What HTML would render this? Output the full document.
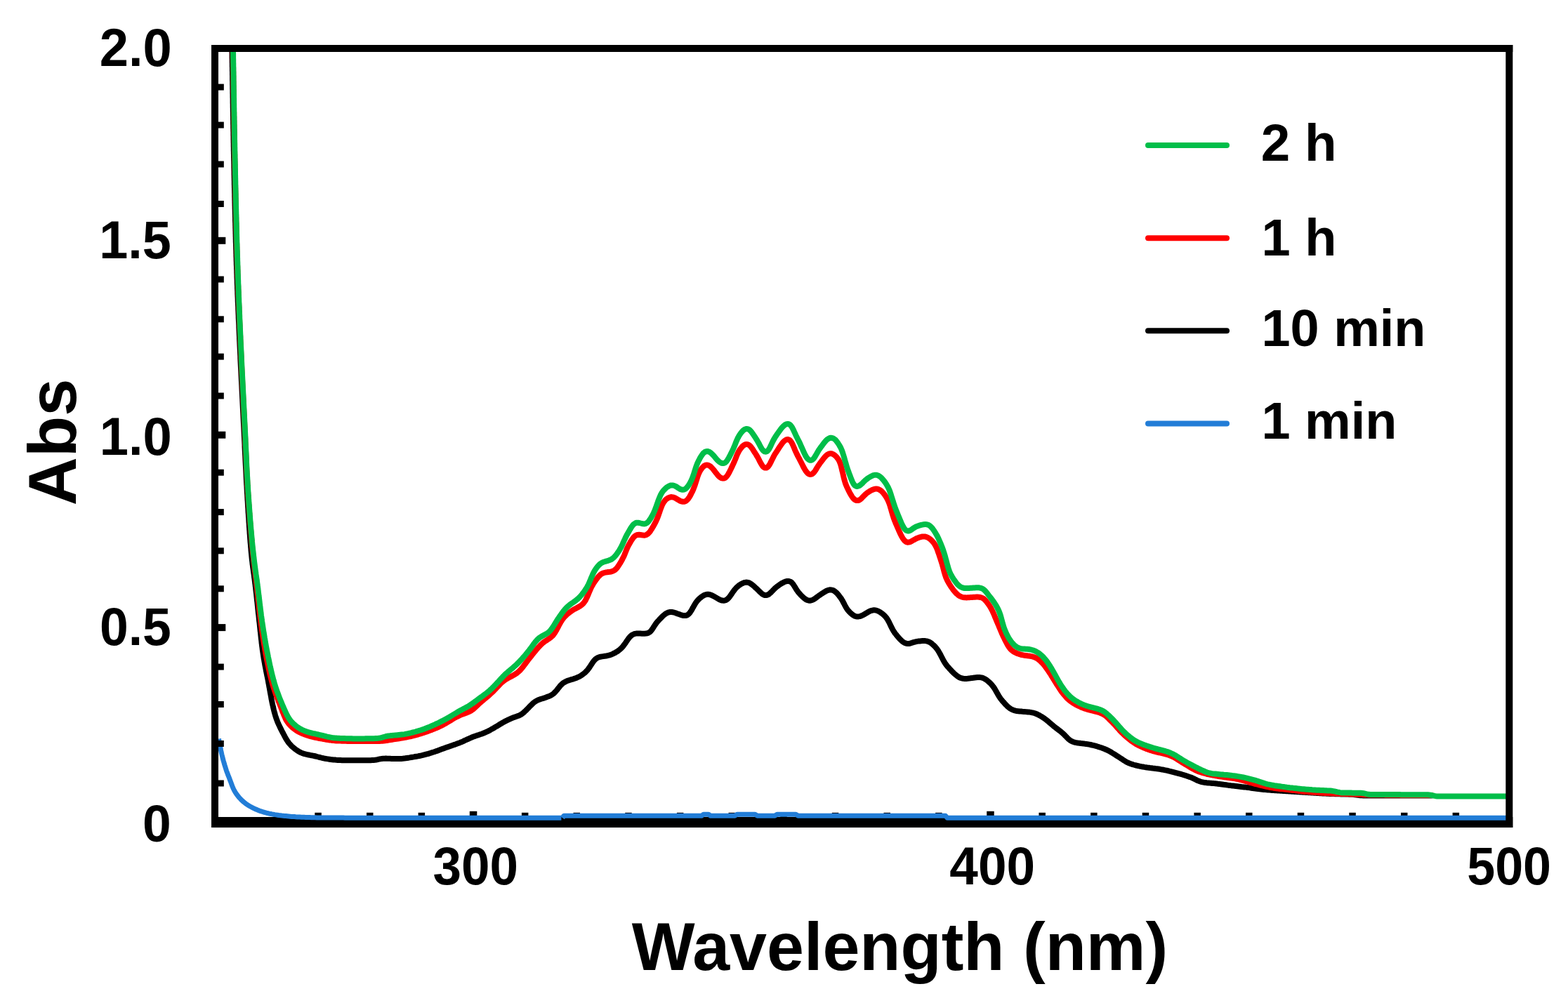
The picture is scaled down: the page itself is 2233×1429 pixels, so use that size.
<!DOCTYPE html>
<html><head><meta charset="utf-8"><title>Abs vs Wavelength</title>
<style>
html,body{margin:0;padding:0;background:#fff;}
svg{display:block;}
text{font-family:'Liberation Sans',Arial,Helvetica,sans-serif;font-weight:bold;fill:#000;}
</style></head>
<body>
<svg width="2233" height="1429" viewBox="0 0 2233 1429">
<rect x="0" y="0" width="2233" height="1429" fill="#fff"/>
<defs><clipPath id="plot"><rect x="306" y="69" width="1843" height="1100"/></clipPath>
<filter id="soft" x="0" y="0" width="1" height="1" filterUnits="objectBoundingBox"><feGaussianBlur stdDeviation="0.6"/></filter></defs>
<g filter="url(#soft)">
<rect x="0" y="0" width="2233" height="1429" fill="#fff"/>
<g clip-path="url(#plot)" fill="none" stroke-linejoin="round" stroke-linecap="round">
<path d="M330.3,61.6 L330.3,63.1 L330.4,64.8 L330.4,66.6 L330.4,68.5 L330.5,70.5 L330.5,72.5 L330.5,74.5 L330.6,76.5 L330.6,78.5 L330.6,80.5 L330.6,82.5 L330.7,84.5 L330.7,86.5 L330.7,88.5 L330.8,90.5 L330.8,92.5 L330.8,94.5 L330.9,96.5 L330.9,98.5 L330.9,100.5 L331.0,102.5 L331.0,104.5 L331.0,106.5 L331.1,108.5 L331.1,110.5 L331.1,112.5 L331.1,114.5 L331.2,116.5 L331.2,118.5 L331.2,120.5 L331.3,122.5 L331.3,124.5 L331.3,126.5 L331.4,128.5 L331.4,130.5 L331.4,132.5 L331.5,134.5 L331.5,136.5 L331.5,138.5 L331.6,140.5 L331.6,142.5 L331.6,144.5 L331.6,146.5 L331.7,148.5 L331.7,150.5 L331.7,152.5 L331.8,154.5 L331.8,156.5 L331.8,158.5 L331.9,160.5 L331.9,162.5 L331.9,164.5 L332.0,166.5 L332.0,168.5 L332.0,170.5 L332.1,172.5 L332.1,174.5 L332.1,176.5 L332.2,178.5 L332.2,180.5 L332.2,182.5 L332.3,184.5 L332.3,186.5 L332.4,188.5 L332.4,190.5 L332.4,192.5 L332.5,194.5 L332.5,196.5 L332.5,198.5 L332.6,200.5 L332.6,202.5 L332.7,204.5 L332.7,206.5 L332.7,208.5 L332.8,210.5 L332.8,212.5 L332.8,214.5 L332.9,216.5 L332.9,218.5 L333.0,220.5 L333.0,222.5 L333.0,224.5 L333.1,226.5 L333.1,228.5 L333.2,230.5 L333.2,232.5 L333.3,234.5 L333.3,236.5 L333.3,238.5 L333.4,240.5 L333.4,242.5 L333.5,244.5 L333.5,246.5 L333.5,248.5 L333.6,250.5 L333.6,252.5 L333.7,254.5 L333.7,256.5 L333.8,258.5 L333.8,260.5 L333.8,262.5 L333.9,264.5 L333.9,266.5 L334.0,268.5 L334.0,270.5 L334.1,272.5 L334.1,274.5 L334.2,276.5 L334.2,278.5 L334.2,280.5 L334.3,282.5 L334.3,284.5 L334.4,286.5 L334.4,288.5 L334.5,290.5 L334.5,292.5 L334.6,294.5 L334.6,296.5 L334.7,298.5 L334.7,300.5 L334.8,302.5 L334.8,304.5 L334.9,306.5 L334.9,308.5 L335.0,310.5 L335.0,312.5 L335.0,314.5 L335.1,316.5 L335.2,318.5 L335.2,320.5 L335.3,322.5 L335.3,324.5 L335.4,326.5 L335.4,328.4 L335.5,330.4 L335.5,332.4 L335.6,334.4 L335.6,336.4 L335.7,338.4 L335.7,340.4 L335.8,342.4 L335.8,344.4 L335.9,346.4 L336.0,348.4 L336.0,350.4 L336.1,352.4 L336.1,354.4 L336.2,356.4 L336.3,358.4 L336.3,360.4 L336.4,362.4 L336.4,364.4 L336.5,366.4 L336.6,368.4 L336.6,370.4 L336.7,372.4 L336.8,374.4 L336.8,376.4 L336.9,378.4 L337.0,380.4 L337.0,382.4 L337.1,384.4 L337.2,386.4 L337.2,388.4 L337.3,390.4 L337.4,392.4 L337.4,394.4 L337.5,396.4 L337.6,398.4 L337.7,400.4 L337.7,402.4 L337.8,404.4 L337.9,406.4 L338.0,408.4 L338.0,410.4 L338.1,412.4 L338.2,414.4 L338.3,416.4 L338.3,418.4 L338.4,420.4 L338.5,422.4 L338.6,424.4 L338.7,426.4 L338.7,428.4 L338.8,430.4 L338.9,432.4 L339.0,434.4 L339.1,436.4 L339.2,438.4 L339.2,440.4 L339.3,442.4 L339.4,444.4 L339.5,446.4 L339.6,448.4 L339.7,450.4 L339.7,452.4 L339.8,454.4 L339.9,456.4 L340.0,458.4 L340.1,460.4 L340.2,462.4 L340.3,464.4 L340.3,466.4 L340.4,468.4 L340.5,470.4 L340.6,472.4 L340.7,474.4 L340.8,476.4 L340.9,478.3 L341.0,480.3 L341.0,482.3 L341.1,484.3 L341.2,486.3 L341.3,488.3 L341.4,490.3 L341.5,492.3 L341.6,494.3 L341.7,496.3 L341.8,498.3 L341.9,500.3 L342.0,502.3 L342.1,504.3 L342.2,506.3 L342.3,508.3 L342.3,510.3 L342.4,512.3 L342.5,514.3 L342.6,516.3 L342.7,518.3 L342.8,520.3 L342.9,522.3 L343.0,524.3 L343.1,526.3 L343.2,528.3 L343.3,530.3 L343.4,532.3 L343.5,534.3 L343.6,536.3 L343.7,538.3 L343.8,540.3 L343.9,542.3 L344.0,544.3 L344.1,546.3 L344.2,548.3 L344.3,550.3 L344.4,552.3 L344.5,554.3 L344.6,556.3 L344.7,558.3 L344.8,560.3 L344.9,562.3 L345.0,564.2 L345.1,566.2 L345.2,568.2 L345.3,570.2 L345.4,572.2 L345.5,574.2 L345.6,576.2 L345.7,578.2 L345.8,580.2 L345.9,582.2 L346.0,584.2 L346.1,586.2 L346.2,588.2 L346.3,590.2 L346.4,592.2 L346.5,594.2 L346.6,596.2 L346.7,598.2 L346.8,600.2 L346.9,602.2 L347.0,604.2 L347.1,606.2 L347.2,608.2 L347.3,610.2 L347.4,612.2 L347.5,614.2 L347.6,616.2 L347.7,618.2 L347.8,620.2 L347.9,622.2 L348.0,624.2 L348.1,626.2 L348.2,628.2 L348.3,630.2 L348.4,632.2 L348.5,634.2 L348.5,636.2 L348.6,638.2 L348.7,640.2 L348.8,642.2 L348.9,644.2 L349.0,646.2 L349.1,648.1 L349.2,650.1 L349.3,652.1 L349.4,654.1 L349.5,656.1 L349.6,658.1 L349.7,660.1 L349.8,662.1 L349.9,664.1 L350.0,666.1 L350.1,668.1 L350.2,670.1 L350.3,672.1 L350.4,674.1 L350.5,676.1 L350.6,678.1 L350.7,680.1 L350.8,682.1 L350.9,684.1 L351.0,686.1 L351.1,688.1 L351.2,690.1 L351.4,692.1 L351.5,694.1 L351.6,696.1 L351.7,698.1 L351.8,700.1 L351.9,702.1 L352.1,704.1 L352.2,706.1 L352.3,708.1 L352.4,710.1 L352.5,712.1 L352.7,714.1 L352.8,716.0 L352.9,718.0 L353.0,720.0 L353.1,722.0 L353.3,724.0 L353.4,726.0 L353.5,728.0 L353.6,730.0 L353.8,732.0 L353.9,734.0 L354.0,736.0 L354.2,738.0 L354.3,740.0 L354.4,742.0 L354.5,744.0 L354.7,746.0 L354.8,748.0 L354.9,750.0 L355.1,752.0 L355.2,754.0 L355.4,756.0 L355.5,758.0 L355.6,760.0 L355.8,761.9 L355.9,763.9 L356.1,765.9 L356.2,767.9 L356.4,769.9 L356.5,771.9 L356.7,773.9 L356.9,775.9 L357.0,777.9 L357.2,779.9 L357.4,781.9 L357.5,783.9 L357.7,785.9 L357.9,787.9 L358.1,789.9 L358.3,791.8 L358.5,793.8 L358.7,795.8 L358.9,797.8 L359.2,799.8 L359.4,801.8 L359.6,803.8 L359.9,805.8 L360.1,807.7 L360.4,809.7 L360.7,811.7 L360.9,813.7 L361.2,815.7 L361.5,817.6 L361.8,819.6 L362.0,821.6 L362.3,823.6 L362.6,825.6 L362.8,827.6 L363.1,829.5 L363.3,831.5 L363.6,833.5 L363.8,835.5 L364.1,837.5 L364.3,839.5 L364.5,841.5 L364.7,843.4 L365.0,845.4 L365.2,847.4 L365.4,849.4 L365.6,851.4 L365.8,853.4 L366.0,855.4 L366.3,857.4 L366.5,859.3 L366.7,861.3 L366.9,863.3 L367.1,865.3 L367.3,867.3 L367.5,869.3 L367.7,871.3 L367.9,873.3 L368.2,875.3 L368.4,877.2 L368.6,879.2 L368.8,881.2 L369.0,883.2 L369.2,885.2 L369.5,887.2 L369.7,889.2 L369.9,891.2 L370.1,893.2 L370.3,895.1 L370.5,897.1 L370.7,899.1 L371.0,901.1 L371.2,903.1 L371.4,905.1 L371.6,907.1 L371.8,909.1 L372.0,911.0 L372.3,913.0 L372.5,915.0 L372.7,917.0 L373.0,919.0 L373.2,921.0 L373.5,923.0 L373.7,924.9 L374.0,926.9 L374.3,928.9 L374.6,930.9 L374.9,932.9 L375.2,934.8 L375.5,936.8 L375.8,938.8 L376.2,940.8 L376.5,942.7 L376.9,944.7 L377.2,946.7 L377.6,948.6 L378.0,950.6 L378.4,952.6 L378.7,954.5 L379.1,956.5 L379.5,958.4 L379.9,960.4 L380.3,962.4 L380.7,964.3 L381.1,966.3 L381.5,968.2 L381.9,970.2 L382.2,972.2 L382.6,974.1 L383.0,976.1 L383.3,978.1 L383.7,980.0 L384.0,982.0 L384.4,984.0 L384.7,985.9 L385.1,987.9 L385.5,989.9 L385.8,991.8 L386.2,993.8 L386.5,995.8 L386.9,997.7 L387.3,999.7 L387.7,1001.7 L388.1,1003.6 L388.6,1005.6 L389.0,1007.5 L389.5,1009.5 L389.9,1011.4 L390.4,1013.4 L390.9,1015.3 L391.5,1017.2 L392.0,1019.1 L392.6,1021.0 L393.2,1022.9 L393.9,1024.8 L394.6,1026.7 L395.3,1028.6 L396.1,1030.4 L396.9,1032.2 L397.8,1034.0 L398.6,1035.8 L399.5,1037.6 L400.4,1039.4 L401.3,1041.2 L402.2,1043.0 L403.2,1044.8 L404.1,1046.5 L405.0,1048.3 L406.0,1050.1 L406.9,1051.8 L407.9,1053.5 L409.0,1055.2 L410.1,1056.9 L411.3,1058.5 L412.6,1060.0 L413.9,1061.4 L415.3,1062.9 L416.8,1064.2 L418.3,1065.5 L419.9,1066.8 L421.4,1068.0 L423.1,1069.1 L424.7,1070.2 L426.5,1071.2 L428.2,1072.1 L430.1,1072.9 L431.9,1073.6 L433.8,1074.2 L435.8,1074.7 L437.7,1075.1 L439.7,1075.5 L441.6,1075.9 L443.6,1076.3 L445.6,1076.6 L447.5,1077.0 L449.5,1077.5 L451.4,1078.0 L453.3,1078.5 L455.3,1079.0 L457.2,1079.5 L459.1,1080.0 L461.1,1080.4 L463.0,1080.8 L465.0,1081.1 L467.0,1081.4 L469.0,1081.7 L471.0,1082.0 L472.9,1082.2 L474.9,1082.4 L476.9,1082.6 L478.9,1082.8 L480.9,1082.9 L482.9,1083.1 L484.9,1083.1 L486.9,1083.2 L488.9,1083.2 L490.9,1083.2 L492.9,1083.2 L494.9,1083.2 L496.9,1083.2 L498.9,1083.2 L500.9,1083.2 L502.9,1083.2 L504.9,1083.2 L506.9,1083.2 L508.9,1083.2 L510.9,1083.2 L512.9,1083.2 L514.4,1083.2 L515.9,1083.2 L517.9,1083.2 L519.9,1083.2 L521.9,1083.2 L523.9,1083.2 L525.9,1083.2 L527.9,1083.2 L529.9,1083.1 L531.9,1083.0 L533.8,1082.8 L535.8,1082.5 L537.7,1082.1 L539.7,1081.6 L541.6,1081.3 L543.6,1080.9 L545.6,1080.7 L547.6,1080.7 L549.5,1080.6 L551.5,1080.7 L553.5,1080.7 L555.5,1080.8 L557.5,1080.9 L559.5,1081.0 L561.5,1081.0 L563.5,1081.1 L565.5,1081.1 L567.5,1081.1 L569.5,1081.0 L571.5,1080.9 L573.5,1080.8 L575.5,1080.6 L577.5,1080.3 L579.5,1080.0 L581.4,1079.7 L583.4,1079.4 L585.4,1079.0 L587.3,1078.7 L589.3,1078.4 L591.3,1078.0 L593.3,1077.7 L595.2,1077.4 L597.2,1077.0 L599.2,1076.6 L601.1,1076.2 L603.1,1075.7 L605.0,1075.2 L606.9,1074.7 L608.9,1074.2 L610.8,1073.6 L612.7,1073.0 L614.6,1072.4 L616.5,1071.8 L618.4,1071.2 L620.3,1070.5 L622.2,1069.9 L624.0,1069.2 L625.9,1068.5 L627.8,1067.8 L629.7,1067.1 L631.5,1066.4 L633.4,1065.7 L635.3,1065.0 L637.2,1064.4 L639.1,1063.7 L641.0,1063.1 L642.9,1062.4 L644.8,1061.8 L646.7,1061.1 L648.5,1060.5 L650.4,1059.8 L652.3,1059.1 L654.2,1058.4 L656.0,1057.6 L657.9,1056.9 L659.7,1056.1 L661.5,1055.2 L663.3,1054.4 L665.1,1053.5 L667.0,1052.7 L668.8,1051.9 L670.6,1051.1 L672.5,1050.3 L674.3,1049.6 L676.2,1048.9 L678.1,1048.3 L680.0,1047.6 L681.9,1047.0 L683.8,1046.3 L685.7,1045.7 L687.5,1045.0 L689.4,1044.2 L691.2,1043.5 L693.0,1042.6 L694.8,1041.8 L696.6,1040.9 L698.4,1039.9 L700.1,1038.9 L701.9,1038.0 L703.6,1037.0 L705.3,1035.9 L707.0,1034.9 L708.8,1033.9 L710.5,1032.8 L712.2,1031.8 L713.9,1030.8 L715.6,1029.8 L717.4,1028.8 L719.1,1027.8 L720.9,1026.9 L722.7,1026.0 L724.5,1025.2 L726.3,1024.3 L728.1,1023.5 L730.0,1022.8 L731.8,1022.1 L733.7,1021.4 L735.6,1020.8 L737.5,1020.1 L739.3,1019.4 L741.1,1018.5 L742.8,1017.5 L744.3,1016.3 L745.9,1015.1 L747.3,1013.7 L748.8,1012.3 L750.2,1010.9 L751.6,1009.5 L753.0,1008.1 L754.4,1006.6 L755.8,1005.2 L757.2,1003.8 L758.6,1002.4 L760.1,1001.1 L761.7,999.9 L763.4,998.9 L765.1,997.9 L766.9,997.1 L768.8,996.4 L770.7,995.8 L772.6,995.2 L774.5,994.6 L776.4,994.0 L778.3,993.3 L780.1,992.6 L782.0,991.9 L783.8,991.1 L785.5,990.1 L787.2,989.0 L788.7,987.8 L790.1,986.4 L791.5,985.0 L792.8,983.5 L794.0,981.9 L795.2,980.3 L796.5,978.8 L797.7,977.2 L799.1,975.8 L800.5,974.4 L802.0,973.2 L803.7,972.1 L805.4,971.2 L807.2,970.3 L809.1,969.6 L811.0,969.0 L812.9,968.4 L814.8,967.8 L816.7,967.3 L818.6,966.6 L820.5,966.0 L822.3,965.2 L824.1,964.4 L825.9,963.5 L827.6,962.4 L829.2,961.3 L830.8,960.1 L832.4,958.9 L833.9,957.6 L835.3,956.1 L836.6,954.7 L837.8,953.1 L839.0,951.5 L840.1,949.8 L841.2,948.2 L842.3,946.5 L843.4,944.8 L844.5,943.2 L845.7,941.6 L847.0,940.1 L848.4,938.8 L850.0,937.7 L851.7,936.8 L853.5,936.2 L855.4,935.7 L857.3,935.4 L859.3,935.1 L861.3,934.8 L863.3,934.5 L865.2,934.1 L867.1,933.7 L869.0,933.1 L870.9,932.4 L872.7,931.6 L874.5,930.7 L876.3,929.8 L878.0,928.7 L879.7,927.7 L881.3,926.5 L882.8,925.3 L884.3,924.0 L885.7,922.6 L887.0,921.1 L888.2,919.5 L889.4,917.9 L890.6,916.3 L891.7,914.6 L892.8,913.0 L894.0,911.3 L895.1,909.7 L896.4,908.2 L897.7,906.7 L899.1,905.4 L900.7,904.3 L902.4,903.5 L904.2,902.9 L906.1,902.6 L908.0,902.5 L910.0,902.5 L912.0,902.6 L914.0,902.7 L916.0,902.7 L918.0,902.7 L919.9,902.6 L921.8,902.3 L923.5,901.7 L925.1,900.7 L926.5,899.5 L927.7,898.0 L928.9,896.4 L930.0,894.8 L931.0,893.1 L932.1,891.4 L933.2,889.8 L934.4,888.1 L935.6,886.6 L936.9,885.0 L938.2,883.6 L939.6,882.1 L941.0,880.7 L942.4,879.2 L943.8,877.8 L945.3,876.5 L946.8,875.3 L948.4,874.1 L950.1,873.2 L951.9,872.5 L953.7,872.1 L955.6,871.9 L957.5,872.1 L959.5,872.5 L961.4,873.0 L963.2,873.7 L965.1,874.4 L967.0,875.1 L968.8,875.8 L970.7,876.4 L972.6,876.9 L974.5,877.1 L976.3,877.1 L978.0,876.6 L979.6,875.8 L981.0,874.6 L982.3,873.2 L983.4,871.6 L984.5,869.9 L985.5,868.2 L986.4,866.4 L987.4,864.7 L988.4,862.9 L989.4,861.2 L990.4,859.5 L991.5,857.9 L992.7,856.3 L994.0,854.8 L995.4,853.4 L996.9,852.1 L998.5,850.8 L1000.1,849.6 L1001.7,848.6 L1003.5,847.7 L1005.3,847.1 L1007.1,846.8 L1009.0,846.8 L1010.9,847.1 L1012.7,847.7 L1014.5,848.4 L1016.3,849.4 L1018.0,850.4 L1019.7,851.4 L1021.4,852.4 L1023.1,853.4 L1024.9,854.3 L1026.7,855.1 L1028.5,855.6 L1030.4,855.7 L1032.1,855.5 L1033.8,854.9 L1035.4,854.0 L1036.8,852.7 L1038.2,851.3 L1039.4,849.8 L1040.5,848.1 L1041.7,846.5 L1042.8,844.8 L1043.9,843.2 L1045.1,841.6 L1046.3,840.0 L1047.6,838.5 L1048.9,837.0 L1050.4,835.7 L1051.9,834.4 L1053.5,833.3 L1055.2,832.2 L1056.9,831.3 L1058.7,830.5 L1060.5,829.9 L1062.4,829.6 L1064.2,829.7 L1066.0,830.1 L1067.8,830.8 L1069.4,831.8 L1071.0,833.0 L1072.5,834.2 L1074.1,835.5 L1075.5,836.9 L1077.0,838.2 L1078.5,839.6 L1079.9,841.0 L1081.3,842.4 L1082.7,843.8 L1084.2,845.1 L1085.7,846.3 L1087.3,847.3 L1088.9,847.9 L1090.7,848.1 L1092.4,847.8 L1094.1,847.1 L1095.6,846.1 L1097.1,844.8 L1098.5,843.4 L1099.9,842.0 L1101.3,840.5 L1102.7,839.1 L1104.1,837.7 L1105.6,836.4 L1107.2,835.2 L1108.8,834.1 L1110.4,832.9 L1112.1,831.8 L1113.8,830.8 L1115.6,829.9 L1117.3,829.0 L1119.2,828.4 L1121.0,828.0 L1122.8,827.9 L1124.5,828.3 L1126.1,829.0 L1127.6,830.1 L1128.8,831.5 L1130.0,833.1 L1131.1,834.8 L1132.1,836.5 L1133.2,838.2 L1134.2,839.9 L1135.3,841.5 L1136.5,843.2 L1137.7,844.7 L1139.0,846.2 L1140.3,847.7 L1141.8,849.1 L1143.2,850.5 L1144.7,851.8 L1146.2,853.0 L1147.8,854.1 L1149.5,855.0 L1151.3,855.5 L1153.1,855.7 L1154.9,855.5 L1156.7,855.0 L1158.4,854.2 L1160.1,853.1 L1161.7,852.0 L1163.3,850.8 L1164.9,849.6 L1166.5,848.4 L1168.2,847.3 L1169.8,846.2 L1171.5,845.1 L1173.2,844.0 L1174.9,843.0 L1176.6,842.0 L1178.4,841.2 L1180.2,840.6 L1182.1,840.3 L1183.9,840.4 L1185.7,840.8 L1187.4,841.5 L1189.0,842.6 L1190.5,843.8 L1191.9,845.2 L1193.2,846.7 L1194.5,848.2 L1195.7,849.8 L1196.9,851.4 L1198.1,853.0 L1199.1,854.7 L1200.1,856.4 L1201.0,858.2 L1202.0,860.0 L1202.9,861.8 L1203.8,863.5 L1204.8,865.3 L1205.8,867.0 L1206.9,868.6 L1208.2,870.1 L1209.5,871.6 L1210.9,873.0 L1212.4,874.4 L1213.9,875.6 L1215.5,876.7 L1217.2,877.6 L1219.0,878.2 L1220.9,878.5 L1222.7,878.4 L1224.6,878.1 L1226.4,877.5 L1228.2,876.7 L1230.0,875.7 L1231.7,874.7 L1233.4,873.7 L1235.1,872.7 L1236.8,871.7 L1238.6,870.8 L1240.4,870.1 L1242.3,869.6 L1244.2,869.3 L1246.1,869.3 L1247.9,869.7 L1249.8,870.3 L1251.6,871.1 L1253.3,872.1 L1254.9,873.2 L1256.5,874.4 L1258.0,875.6 L1259.5,877.0 L1260.8,878.4 L1262.1,879.9 L1263.3,881.6 L1264.3,883.2 L1265.3,885.0 L1266.2,886.7 L1267.1,888.5 L1267.9,890.3 L1268.8,892.1 L1269.7,893.9 L1270.6,895.7 L1271.6,897.5 L1272.6,899.2 L1273.7,900.8 L1274.8,902.5 L1276.1,904.0 L1277.3,905.6 L1278.6,907.1 L1279.9,908.6 L1281.2,910.1 L1282.6,911.5 L1284.1,912.9 L1285.6,914.2 L1287.2,915.3 L1288.9,916.1 L1290.7,916.7 L1292.5,917.0 L1294.4,917.0 L1296.2,916.6 L1298.1,916.0 L1300.0,915.4 L1301.9,914.8 L1303.8,914.3 L1305.7,913.9 L1307.7,913.6 L1309.7,913.4 L1311.7,913.2 L1313.6,913.1 L1315.6,913.1 L1317.6,913.1 L1319.5,913.4 L1321.4,913.9 L1323.2,914.6 L1324.9,915.5 L1326.5,916.6 L1328.0,917.9 L1329.5,919.2 L1330.9,920.6 L1332.3,922.1 L1333.6,923.6 L1334.8,925.2 L1335.9,926.8 L1336.9,928.5 L1337.9,930.2 L1338.9,932.0 L1339.8,933.7 L1340.7,935.5 L1341.6,937.3 L1342.6,939.1 L1343.5,940.8 L1344.5,942.6 L1345.5,944.3 L1346.6,945.9 L1347.8,947.5 L1349.0,949.1 L1350.3,950.6 L1351.7,952.1 L1353.0,953.6 L1354.4,955.1 L1355.7,956.5 L1357.2,957.9 L1358.6,959.3 L1360.1,960.7 L1361.6,961.9 L1363.2,963.1 L1364.8,964.2 L1366.5,965.2 L1368.3,965.9 L1370.2,966.5 L1372.1,966.8 L1374.1,967.0 L1376.1,966.9 L1378.0,966.8 L1380.0,966.6 L1382.0,966.3 L1384.0,966.1 L1386.0,965.8 L1387.9,965.5 L1389.9,965.3 L1391.9,965.1 L1393.9,965.0 L1395.8,965.1 L1397.8,965.4 L1399.6,965.9 L1401.4,966.7 L1403.1,967.6 L1404.8,968.7 L1406.4,969.9 L1407.9,971.2 L1409.3,972.5 L1410.8,973.9 L1412.1,975.4 L1413.4,976.9 L1414.6,978.4 L1415.8,980.1 L1416.8,981.8 L1417.8,983.5 L1418.8,985.2 L1419.8,987.0 L1420.8,988.7 L1421.8,990.5 L1422.8,992.2 L1423.9,993.8 L1425.0,995.5 L1426.3,997.0 L1427.5,998.6 L1428.8,1000.1 L1430.2,1001.6 L1431.5,1003.1 L1432.9,1004.5 L1434.3,1005.9 L1435.8,1007.2 L1437.3,1008.5 L1438.9,1009.6 L1440.6,1010.6 L1442.4,1011.4 L1444.3,1012.1 L1446.2,1012.6 L1448.1,1013.0 L1450.1,1013.2 L1452.1,1013.4 L1454.1,1013.6 L1456.1,1013.8 L1458.1,1013.9 L1460.1,1014.1 L1462.0,1014.2 L1464.0,1014.4 L1466.0,1014.6 L1468.0,1014.9 L1470.0,1015.3 L1471.9,1015.7 L1473.8,1016.3 L1475.6,1017.0 L1477.5,1017.8 L1479.2,1018.7 L1481.0,1019.6 L1482.7,1020.6 L1484.4,1021.7 L1486.1,1022.8 L1487.7,1023.9 L1489.3,1025.1 L1490.9,1026.3 L1492.5,1027.6 L1494.0,1028.9 L1495.5,1030.2 L1497.0,1031.5 L1498.5,1032.8 L1500.0,1034.1 L1501.6,1035.4 L1503.2,1036.6 L1504.7,1037.8 L1506.3,1039.0 L1507.9,1040.2 L1509.5,1041.4 L1511.1,1042.7 L1512.6,1044.0 L1514.1,1045.3 L1515.5,1046.7 L1516.9,1048.1 L1518.3,1049.5 L1519.7,1051.0 L1521.1,1052.4 L1522.6,1053.7 L1524.1,1054.9 L1525.8,1055.9 L1527.5,1056.7 L1529.4,1057.3 L1531.3,1057.8 L1533.3,1058.2 L1535.2,1058.5 L1537.2,1058.7 L1539.2,1059.0 L1541.2,1059.2 L1543.2,1059.4 L1545.2,1059.7 L1547.1,1059.9 L1549.1,1060.3 L1551.1,1060.6 L1553.0,1061.0 L1555.0,1061.5 L1556.9,1061.9 L1558.9,1062.4 L1560.8,1062.9 L1562.7,1063.5 L1564.6,1064.1 L1566.5,1064.7 L1568.4,1065.3 L1570.3,1066.0 L1572.2,1066.7 L1574.0,1067.5 L1575.9,1068.3 L1577.7,1069.1 L1579.4,1070.0 L1581.2,1071.0 L1582.9,1072.0 L1584.6,1073.1 L1586.3,1074.1 L1588.0,1075.2 L1589.7,1076.3 L1591.4,1077.4 L1593.0,1078.4 L1594.7,1079.5 L1596.4,1080.6 L1598.1,1081.7 L1599.7,1082.8 L1601.4,1083.9 L1603.1,1084.9 L1604.9,1085.9 L1606.6,1086.8 L1608.5,1087.6 L1610.3,1088.3 L1612.2,1088.9 L1614.1,1089.5 L1616.0,1090.0 L1618.0,1090.5 L1619.9,1091.0 L1621.9,1091.4 L1623.8,1091.8 L1625.8,1092.2 L1627.8,1092.5 L1629.8,1092.9 L1631.7,1093.2 L1633.7,1093.5 L1635.7,1093.7 L1637.7,1094.0 L1639.7,1094.2 L1641.6,1094.5 L1643.6,1094.7 L1645.6,1095.0 L1647.6,1095.2 L1649.6,1095.5 L1651.5,1095.8 L1653.5,1096.2 L1655.5,1096.5 L1657.4,1096.9 L1659.4,1097.3 L1661.4,1097.7 L1663.3,1098.2 L1665.2,1098.7 L1667.2,1099.1 L1669.1,1099.6 L1671.1,1100.1 L1673.0,1100.6 L1674.9,1101.1 L1676.9,1101.6 L1678.8,1102.2 L1680.7,1102.7 L1682.7,1103.2 L1684.6,1103.8 L1686.5,1104.4 L1688.4,1104.9 L1690.3,1105.6 L1692.2,1106.2 L1694.1,1106.9 L1696.0,1107.6 L1697.8,1108.3 L1699.6,1109.2 L1701.4,1110.0 L1703.2,1110.9 L1705.0,1111.8 L1706.8,1112.6 L1708.6,1113.3 L1710.5,1113.9 L1712.4,1114.3 L1714.4,1114.7 L1716.4,1114.9 L1718.4,1115.2 L1720.4,1115.4 L1722.3,1115.6 L1724.3,1115.7 L1726.3,1115.9 L1728.3,1116.1 L1730.3,1116.2 L1732.3,1116.4 L1734.3,1116.7 L1736.3,1116.9 L1738.3,1117.2 L1740.2,1117.5 L1742.2,1117.8 L1744.2,1118.1 L1746.2,1118.3 L1748.2,1118.6 L1750.1,1118.9 L1752.1,1119.1 L1754.1,1119.4 L1756.1,1119.6 L1758.1,1119.8 L1760.1,1120.1 L1762.1,1120.3 L1764.0,1120.5 L1766.0,1120.7 L1768.0,1121.0 L1770.0,1121.2 L1772.0,1121.4 L1774.0,1121.6 L1776.0,1121.9 L1777.9,1122.1 L1779.9,1122.4 L1781.9,1122.7 L1783.9,1123.0 L1785.9,1123.3 L1787.8,1123.5 L1789.8,1123.8 L1791.8,1124.1 L1793.8,1124.3 L1795.8,1124.5 L1797.8,1124.7 L1799.8,1124.9 L1801.8,1125.1 L1803.7,1125.3 L1805.7,1125.5 L1807.7,1125.6 L1809.7,1125.8 L1811.7,1125.9 L1813.7,1126.1 L1815.7,1126.2 L1817.7,1126.3 L1819.7,1126.5 L1821.7,1126.6 L1823.7,1126.7 L1825.7,1126.8 L1827.7,1127.0 L1829.7,1127.1 L1831.7,1127.2 L1833.7,1127.3 L1835.7,1127.4 L1837.7,1127.6 L1839.7,1127.7 L1841.7,1127.8 L1843.7,1127.9 L1845.7,1128.0 L1847.7,1128.2 L1849.6,1128.3 L1851.6,1128.4 L1853.6,1128.5 L1855.6,1128.7 L1857.6,1128.8 L1859.6,1128.9 L1861.6,1129.1 L1863.6,1129.2 L1865.6,1129.3 L1867.6,1129.4 L1869.6,1129.6 L1871.6,1129.7 L1873.6,1129.8 L1875.6,1129.9 L1877.6,1130.1 L1879.6,1130.2 L1881.6,1130.3 L1883.6,1130.4 L1885.6,1130.5 L1887.6,1130.6 L1889.6,1130.7 L1891.6,1130.8 L1893.6,1130.9 L1895.6,1131.0 L1897.6,1131.1 L1899.6,1131.1 L1901.6,1131.2 L1903.6,1131.3 L1905.6,1131.3 L1907.6,1131.3 L1909.6,1131.4 L1911.6,1131.4 L1913.6,1131.5 L1915.6,1131.5 L1917.6,1131.5 L1919.6,1131.6 L1921.6,1131.7 L1923.6,1131.7 L1925.5,1131.8 L1927.5,1132.0 L1929.5,1132.2 L1931.5,1132.5 L1933.4,1132.8 L1935.4,1133.0 L1937.4,1133.2 L1939.4,1133.3 L1941.4,1133.4 L1943.4,1133.4 L1945.4,1133.4 L1947.4,1133.4 L1949.4,1133.4 L1951.4,1133.4 L1953.4,1133.4 L1954.9,1133.4 L1956.4,1133.4 L1957.9,1133.4 L1959.4,1133.4 L1960.9,1133.4 L1962.4,1133.4 L1963.9,1133.4 L1965.4,1133.4 L1966.9,1133.4 L1968.4,1133.4 L1969.9,1133.4 L1971.4,1133.4 L1972.9,1133.4 L1974.4,1133.4 L1975.9,1133.4 L1977.4,1133.4 L1978.9,1133.4 L1980.4,1133.4 L1981.9,1133.4 L1983.4,1133.4 L1984.9,1133.4 L1986.4,1133.4 L1987.9,1133.4 L1989.4,1133.4 L1990.9,1133.4 L1992.4,1133.4 L1993.9,1133.4 L1995.4,1133.4 L1996.9,1133.4 L1998.4,1133.4 L1999.9,1133.4 L2001.4,1133.4 L2002.9,1133.4 L2004.4,1133.4 L2005.9,1133.4 L2007.4,1133.4 L2008.9,1133.4 L2010.4,1133.4 L2011.9,1133.4 L2013.4,1133.4 L2014.9,1133.4 L2016.4,1133.4 L2017.9,1133.4 L2019.4,1133.4 L2020.9,1133.4 L2022.4,1133.4 L2023.9,1133.4 L2025.9,1133.4 L2027.9,1133.4 L2029.9,1133.4 L2031.8,1133.4 L2033.8,1133.4 L2035.6,1133.4 L2037.1,1133.4 L2038.6,1133.4" stroke="#000" stroke-width="8"/>
<path d="M331.5,61.6 L331.5,63.1 L331.6,64.8 L331.6,66.6 L331.6,68.5 L331.7,70.5 L331.7,72.5 L331.7,74.5 L331.8,76.5 L331.8,78.5 L331.8,80.5 L331.8,82.5 L331.9,84.5 L331.9,86.5 L331.9,88.5 L332.0,90.5 L332.0,92.5 L332.0,94.5 L332.1,96.5 L332.1,98.5 L332.1,100.5 L332.2,102.5 L332.2,104.5 L332.2,106.5 L332.3,108.5 L332.3,110.5 L332.3,112.5 L332.3,114.5 L332.4,116.5 L332.4,118.5 L332.4,120.5 L332.5,122.5 L332.5,124.5 L332.5,126.5 L332.6,128.5 L332.6,130.5 L332.6,132.5 L332.7,134.5 L332.7,136.5 L332.7,138.5 L332.8,140.5 L332.8,142.5 L332.8,144.5 L332.8,146.5 L332.9,148.5 L332.9,150.5 L332.9,152.5 L333.0,154.5 L333.0,156.5 L333.0,158.5 L333.1,160.5 L333.1,162.5 L333.1,164.5 L333.2,166.5 L333.2,168.5 L333.2,170.5 L333.3,172.5 L333.3,174.5 L333.3,176.5 L333.4,178.5 L333.4,180.5 L333.4,182.5 L333.5,184.5 L333.5,186.5 L333.6,188.5 L333.6,190.5 L333.6,192.5 L333.7,194.5 L333.7,196.5 L333.7,198.5 L333.8,200.5 L333.8,202.5 L333.9,204.5 L333.9,206.5 L333.9,208.5 L334.0,210.5 L334.0,212.5 L334.0,214.5 L334.1,216.5 L334.1,218.5 L334.2,220.5 L334.2,222.5 L334.2,224.5 L334.3,226.5 L334.3,228.5 L334.4,230.5 L334.4,232.5 L334.5,234.5 L334.5,236.5 L334.5,238.5 L334.6,240.5 L334.6,242.5 L334.7,244.5 L334.7,246.5 L334.7,248.5 L334.8,250.5 L334.8,252.5 L334.9,254.5 L334.9,256.5 L335.0,258.5 L335.0,260.5 L335.0,262.5 L335.1,264.5 L335.1,266.5 L335.2,268.5 L335.2,270.5 L335.3,272.5 L335.3,274.5 L335.4,276.5 L335.4,278.5 L335.4,280.5 L335.5,282.5 L335.5,284.5 L335.6,286.5 L335.6,288.5 L335.7,290.5 L335.7,292.5 L335.8,294.5 L335.8,296.5 L335.9,298.5 L335.9,300.5 L336.0,302.5 L336.0,304.5 L336.1,306.5 L336.1,308.5 L336.2,310.5 L336.2,312.5 L336.2,314.5 L336.3,316.5 L336.4,318.5 L336.4,320.5 L336.5,322.5 L336.5,324.5 L336.6,326.5 L336.6,328.4 L336.7,330.4 L336.7,332.4 L336.8,334.4 L336.8,336.4 L336.9,338.4 L336.9,340.4 L337.0,342.4 L337.0,344.4 L337.1,346.4 L337.2,348.4 L337.2,350.4 L337.3,352.4 L337.3,354.4 L337.4,356.4 L337.5,358.4 L337.5,360.4 L337.6,362.4 L337.6,364.4 L337.7,366.4 L337.8,368.4 L337.8,370.4 L337.9,372.4 L338.0,374.4 L338.0,376.4 L338.1,378.4 L338.2,380.4 L338.2,382.4 L338.3,384.4 L338.4,386.4 L338.4,388.4 L338.5,390.4 L338.6,392.4 L338.6,394.4 L338.7,396.4 L338.8,398.4 L338.9,400.4 L338.9,402.4 L339.0,404.4 L339.1,406.4 L339.2,408.4 L339.2,410.4 L339.3,412.4 L339.4,414.4 L339.5,416.4 L339.5,418.4 L339.6,420.4 L339.7,422.4 L339.8,424.4 L339.9,426.4 L339.9,428.4 L340.0,430.4 L340.1,432.4 L340.2,434.4 L340.3,436.4 L340.4,438.4 L340.4,440.4 L340.5,442.4 L340.6,444.4 L340.7,446.4 L340.8,448.4 L340.9,450.4 L340.9,452.4 L341.0,454.4 L341.1,456.4 L341.2,458.4 L341.3,460.4 L341.4,462.4 L341.5,464.4 L341.5,466.4 L341.6,468.4 L341.7,470.4 L341.8,472.4 L341.9,474.4 L342.0,476.4 L342.1,478.3 L342.2,480.3 L342.2,482.3 L342.3,484.3 L342.4,486.3 L342.5,488.3 L342.6,490.3 L342.7,492.3 L342.8,494.3 L342.9,496.3 L343.0,498.3 L343.1,500.3 L343.2,502.3 L343.3,504.3 L343.4,506.3 L343.5,508.3 L343.5,510.3 L343.6,512.3 L343.7,514.3 L343.8,516.3 L343.9,518.3 L344.0,520.3 L344.1,522.3 L344.2,524.3 L344.3,526.3 L344.4,528.3 L344.5,530.3 L344.6,532.3 L344.7,534.3 L344.8,536.3 L344.9,538.3 L345.0,540.3 L345.1,542.3 L345.2,544.3 L345.3,546.3 L345.4,548.3 L345.5,550.3 L345.6,552.3 L345.7,554.3 L345.8,556.3 L345.9,558.3 L346.0,560.3 L346.1,562.3 L346.2,564.2 L346.3,566.2 L346.4,568.2 L346.5,570.2 L346.6,572.2 L346.7,574.2 L346.8,576.2 L346.9,578.2 L347.0,580.2 L347.1,582.2 L347.2,584.2 L347.3,586.2 L347.4,588.2 L347.5,590.2 L347.6,592.2 L347.7,594.2 L347.8,596.2 L347.9,598.2 L348.0,600.2 L348.1,602.2 L348.2,604.2 L348.3,606.2 L348.4,608.2 L348.5,610.2 L348.6,612.2 L348.7,614.2 L348.8,616.2 L348.9,618.2 L349.0,620.2 L349.1,622.2 L349.2,624.2 L349.3,626.2 L349.3,628.2 L349.4,630.2 L349.5,632.2 L349.6,634.2 L349.7,636.2 L349.8,638.2 L349.9,640.2 L350.0,642.2 L350.1,644.2 L350.2,646.2 L350.3,648.1 L350.4,650.1 L350.5,652.1 L350.6,654.1 L350.7,656.1 L350.8,658.1 L350.9,660.1 L351.0,662.1 L351.0,664.1 L351.1,666.1 L351.2,668.1 L351.3,670.1 L351.4,672.1 L351.6,674.1 L351.7,676.1 L351.8,678.1 L351.9,680.1 L352.0,682.1 L352.1,684.1 L352.2,686.1 L352.3,688.1 L352.4,690.1 L352.5,692.1 L352.7,694.1 L352.8,696.1 L352.9,698.1 L353.0,700.1 L353.2,702.1 L353.3,704.1 L353.4,706.1 L353.6,708.1 L353.7,710.1 L353.8,712.0 L354.0,714.0 L354.1,716.0 L354.2,718.0 L354.4,720.0 L354.5,722.0 L354.7,724.0 L354.8,726.0 L355.0,728.0 L355.1,730.0 L355.3,732.0 L355.4,734.0 L355.6,736.0 L355.7,738.0 L355.9,740.0 L356.0,742.0 L356.2,744.0 L356.3,746.0 L356.5,748.0 L356.7,749.9 L356.8,751.9 L357.0,753.9 L357.2,755.9 L357.3,757.9 L357.5,759.9 L357.7,761.9 L357.8,763.9 L358.0,765.9 L358.2,767.9 L358.4,769.9 L358.6,771.9 L358.7,773.9 L358.9,775.8 L359.1,777.8 L359.3,779.8 L359.5,781.8 L359.7,783.8 L359.9,785.8 L360.1,787.8 L360.3,789.8 L360.5,791.8 L360.7,793.8 L360.9,795.7 L361.1,797.7 L361.4,799.7 L361.6,801.7 L361.8,803.7 L362.0,805.7 L362.3,807.7 L362.5,809.7 L362.8,811.6 L363.0,813.6 L363.3,815.6 L363.5,817.6 L363.8,819.6 L364.0,821.6 L364.3,823.5 L364.5,825.5 L364.8,827.5 L365.0,829.5 L365.3,831.5 L365.5,833.5 L365.7,835.5 L366.0,837.4 L366.2,839.4 L366.4,841.4 L366.6,843.4 L366.9,845.4 L367.1,847.4 L367.3,849.4 L367.5,851.4 L367.7,853.3 L367.9,855.3 L368.2,857.3 L368.4,859.3 L368.6,861.3 L368.8,863.3 L369.0,865.3 L369.2,867.3 L369.5,869.2 L369.7,871.2 L369.9,873.2 L370.2,875.2 L370.4,877.2 L370.7,879.2 L370.9,881.2 L371.2,883.1 L371.4,885.1 L371.7,887.1 L371.9,889.1 L372.2,891.1 L372.5,893.1 L372.7,895.0 L373.0,897.0 L373.3,899.0 L373.6,901.0 L373.8,903.0 L374.1,904.9 L374.4,906.9 L374.7,908.9 L375.0,910.9 L375.3,912.9 L375.6,914.8 L375.9,916.8 L376.2,918.8 L376.6,920.8 L376.9,922.7 L377.2,924.7 L377.6,926.7 L377.9,928.6 L378.3,930.6 L378.7,932.6 L379.0,934.5 L379.4,936.5 L379.8,938.5 L380.2,940.4 L380.6,942.4 L381.0,944.4 L381.4,946.3 L381.8,948.3 L382.2,950.2 L382.6,952.2 L383.0,954.1 L383.5,956.1 L383.9,958.0 L384.3,960.0 L384.8,961.9 L385.3,963.9 L385.8,965.8 L386.3,967.8 L386.8,969.7 L387.3,971.6 L387.8,973.5 L388.4,975.5 L389.0,977.4 L389.5,979.3 L390.2,981.2 L390.8,983.1 L391.4,985.0 L392.1,986.9 L392.7,988.8 L393.4,990.6 L394.1,992.5 L394.8,994.4 L395.6,996.2 L396.3,998.1 L397.0,1000.0 L397.8,1001.8 L398.5,1003.7 L399.2,1005.5 L400.0,1007.4 L400.7,1009.3 L401.4,1011.1 L402.1,1013.0 L402.8,1014.9 L403.6,1016.7 L404.3,1018.6 L405.1,1020.4 L405.9,1022.3 L406.7,1024.1 L407.6,1025.8 L408.7,1027.6 L409.8,1029.2 L411.0,1030.8 L412.3,1032.3 L413.6,1033.7 L415.0,1035.1 L416.5,1036.5 L418.1,1037.7 L419.6,1039.0 L421.3,1040.1 L422.9,1041.2 L424.6,1042.2 L426.4,1043.2 L428.2,1044.0 L430.0,1044.9 L431.8,1045.6 L433.7,1046.4 L435.6,1047.0 L437.5,1047.7 L439.4,1048.3 L441.3,1048.8 L443.2,1049.3 L445.2,1049.8 L447.1,1050.3 L449.1,1050.8 L451.0,1051.2 L453.0,1051.6 L454.9,1052.0 L456.9,1052.3 L458.9,1052.7 L460.8,1053.1 L462.8,1053.4 L464.8,1053.8 L466.8,1054.1 L468.7,1054.4 L470.7,1054.6 L472.7,1054.9 L474.7,1055.1 L476.7,1055.2 L478.7,1055.4 L480.7,1055.5 L482.7,1055.6 L484.7,1055.6 L486.7,1055.7 L488.7,1055.7 L490.7,1055.8 L492.7,1055.8 L494.7,1055.9 L496.7,1055.9 L498.7,1055.9 L500.7,1055.9 L502.7,1056.0 L504.7,1056.0 L506.7,1056.0 L508.7,1056.0 L510.7,1056.0 L512.7,1056.0 L514.7,1056.0 L516.7,1056.0 L518.7,1056.0 L520.7,1056.0 L522.7,1056.0 L524.7,1056.0 L526.7,1056.0 L528.7,1056.0 L530.7,1056.0 L532.7,1056.0 L534.7,1056.0 L536.7,1056.0 L538.7,1056.0 L540.7,1055.9 L542.7,1055.8 L544.6,1055.7 L546.6,1055.5 L548.6,1055.2 L550.6,1055.0 L552.6,1054.7 L554.6,1054.3 L556.5,1054.0 L558.5,1053.7 L560.5,1053.4 L562.5,1053.1 L564.4,1052.8 L566.4,1052.5 L568.4,1052.2 L570.4,1051.9 L572.3,1051.6 L574.3,1051.2 L576.3,1050.9 L578.2,1050.5 L580.2,1050.1 L582.2,1049.7 L584.1,1049.3 L586.1,1048.8 L588.0,1048.4 L589.9,1047.9 L591.9,1047.4 L593.8,1046.8 L595.7,1046.3 L597.6,1045.7 L599.6,1045.1 L601.5,1044.5 L603.4,1043.9 L605.3,1043.3 L607.2,1042.6 L609.0,1042.0 L610.9,1041.3 L612.8,1040.6 L614.7,1039.9 L616.5,1039.1 L618.4,1038.4 L620.2,1037.6 L622.1,1036.9 L623.9,1036.1 L625.7,1035.2 L627.5,1034.4 L629.3,1033.5 L631.1,1032.6 L632.9,1031.6 L634.6,1030.7 L636.3,1029.6 L638.0,1028.6 L639.7,1027.6 L641.5,1026.5 L643.2,1025.5 L644.9,1024.4 L646.6,1023.4 L648.3,1022.4 L650.1,1021.5 L651.9,1020.6 L653.6,1019.7 L655.5,1018.9 L657.3,1018.1 L659.2,1017.4 L661.1,1016.7 L662.9,1016.1 L664.8,1015.4 L666.7,1014.6 L668.5,1013.8 L670.2,1012.9 L671.9,1011.8 L673.5,1010.7 L675.0,1009.4 L676.5,1008.1 L678.0,1006.7 L679.4,1005.3 L680.8,1003.9 L682.3,1002.6 L683.8,1001.2 L685.3,999.9 L686.8,998.6 L688.4,997.3 L689.9,996.0 L691.4,994.8 L693.0,993.5 L694.5,992.2 L696.0,990.9 L697.5,989.6 L699.0,988.2 L700.4,986.9 L701.9,985.5 L703.3,984.1 L704.7,982.6 L706.1,981.2 L707.4,979.7 L708.8,978.2 L710.2,976.8 L711.5,975.3 L713.0,973.9 L714.4,972.6 L715.9,971.3 L717.5,970.0 L719.1,968.8 L720.7,967.7 L722.4,966.7 L724.2,965.7 L725.9,964.8 L727.7,963.9 L729.5,962.9 L731.2,962.0 L733.0,961.0 L734.6,959.9 L736.3,958.8 L737.8,957.5 L739.3,956.2 L740.7,954.8 L742.0,953.3 L743.3,951.8 L744.6,950.3 L745.8,948.7 L747.0,947.1 L748.2,945.5 L749.4,943.9 L750.6,942.3 L751.8,940.7 L753.0,939.1 L754.2,937.5 L755.5,935.9 L756.7,934.4 L758.0,932.8 L759.2,931.3 L760.5,929.7 L761.8,928.2 L763.1,926.6 L764.3,925.1 L765.6,923.6 L767.0,922.1 L768.3,920.6 L769.7,919.2 L771.1,917.8 L772.6,916.4 L774.1,915.2 L775.7,914.0 L777.4,912.9 L779.1,911.8 L780.7,910.7 L782.4,909.6 L784.0,908.4 L785.5,907.1 L786.9,905.8 L788.2,904.3 L789.4,902.7 L790.5,901.0 L791.5,899.3 L792.5,897.6 L793.4,895.8 L794.4,894.0 L795.3,892.3 L796.2,890.5 L797.2,888.7 L798.2,887.0 L799.2,885.3 L800.3,883.6 L801.4,882.0 L802.6,880.4 L803.9,878.9 L805.3,877.5 L806.8,876.1 L808.3,874.8 L809.8,873.5 L811.4,872.3 L813.0,871.1 L814.6,870.0 L816.3,868.9 L818.0,867.9 L819.8,867.0 L821.6,866.0 L823.3,865.1 L825.1,864.1 L826.7,863.1 L828.3,861.9 L829.8,860.6 L831.1,859.2 L832.3,857.6 L833.4,856.0 L834.4,854.2 L835.2,852.4 L836.1,850.6 L836.9,848.8 L837.7,847.0 L838.4,845.1 L839.2,843.3 L840.0,841.4 L840.8,839.6 L841.6,837.8 L842.5,836.0 L843.5,834.3 L844.5,832.5 L845.5,830.8 L846.6,829.2 L847.7,827.5 L848.9,825.9 L850.1,824.3 L851.3,822.7 L852.6,821.2 L854.0,819.8 L855.4,818.5 L857.0,817.4 L858.7,816.6 L860.6,816.0 L862.5,815.5 L864.4,815.3 L866.4,815.0 L868.4,814.8 L870.3,814.5 L872.1,813.9 L873.9,813.1 L875.5,812.1 L876.9,810.9 L878.3,809.4 L879.5,807.9 L880.6,806.3 L881.7,804.6 L882.8,802.9 L883.8,801.2 L884.8,799.5 L885.8,797.7 L886.7,795.9 L887.6,794.2 L888.5,792.4 L889.3,790.5 L890.0,788.7 L890.8,786.8 L891.5,785.0 L892.3,783.1 L893.0,781.3 L893.9,779.5 L894.7,777.7 L895.7,775.9 L896.7,774.2 L897.7,772.4 L898.7,770.7 L899.8,769.0 L900.9,767.4 L902.1,765.8 L903.4,764.4 L904.8,763.3 L906.4,762.4 L908.2,761.9 L910.0,761.8 L911.9,762.0 L913.7,762.3 L915.6,762.6 L917.5,762.7 L919.3,762.4 L921.0,761.7 L922.5,760.7 L923.9,759.4 L925.2,758.0 L926.3,756.4 L927.4,754.7 L928.5,753.0 L929.5,751.3 L930.5,749.6 L931.5,747.8 L932.4,746.1 L933.4,744.3 L934.3,742.5 L935.1,740.7 L935.9,738.9 L936.6,737.0 L937.3,735.1 L938.0,733.3 L938.6,731.4 L939.3,729.5 L939.9,727.6 L940.6,725.7 L941.3,723.8 L942.0,722.0 L942.7,720.1 L943.6,718.3 L944.5,716.6 L945.6,714.9 L946.8,713.4 L948.1,711.9 L949.6,710.7 L951.2,709.6 L952.9,708.8 L954.7,708.3 L956.5,708.1 L958.3,708.4 L960.1,708.9 L961.9,709.7 L963.6,710.7 L965.3,711.7 L967.0,712.7 L968.7,713.7 L970.5,714.4 L972.3,714.8 L974.0,714.8 L975.7,714.4 L977.2,713.5 L978.6,712.3 L979.9,710.9 L981.0,709.3 L982.1,707.6 L983.1,705.9 L984.0,704.1 L984.9,702.3 L985.8,700.6 L986.7,698.8 L987.5,696.9 L988.2,695.1 L988.9,693.2 L989.6,691.3 L990.2,689.4 L990.8,687.5 L991.4,685.6 L992.0,683.7 L992.6,681.8 L993.2,679.9 L993.8,678.0 L994.5,676.1 L995.3,674.3 L996.2,672.5 L997.1,670.7 L998.2,669.0 L999.3,667.4 L1000.5,665.9 L1001.9,664.6 L1003.3,663.4 L1004.9,662.7 L1006.6,662.4 L1008.3,662.6 L1009.9,663.3 L1011.5,664.3 L1012.9,665.6 L1014.3,667.0 L1015.6,668.5 L1016.8,670.0 L1018.0,671.6 L1019.2,673.2 L1020.5,674.8 L1021.7,676.3 L1023.0,677.8 L1024.4,679.2 L1025.9,680.3 L1027.5,681.2 L1029.2,681.6 L1030.8,681.5 L1032.4,680.9 L1033.8,679.9 L1035.1,678.5 L1036.2,677.0 L1037.2,675.3 L1038.2,673.5 L1039.1,671.8 L1040.0,670.0 L1040.9,668.2 L1041.7,666.4 L1042.6,664.6 L1043.4,662.8 L1044.3,661.0 L1045.1,659.1 L1045.9,657.3 L1046.7,655.5 L1047.5,653.6 L1048.2,651.8 L1048.9,649.9 L1049.7,648.0 L1050.5,646.2 L1051.4,644.4 L1052.3,642.7 L1053.3,641.0 L1054.5,639.4 L1055.7,637.8 L1057.0,636.3 L1058.4,635.0 L1059.9,633.9 L1061.5,633.2 L1063.2,632.9 L1064.8,633.1 L1066.4,633.8 L1067.8,634.9 L1069.1,636.3 L1070.3,637.8 L1071.5,639.4 L1072.6,641.1 L1073.6,642.8 L1074.7,644.5 L1075.8,646.2 L1076.9,647.9 L1077.9,649.6 L1078.9,651.3 L1079.9,653.0 L1080.8,654.8 L1081.7,656.6 L1082.6,658.3 L1083.6,660.1 L1084.6,661.8 L1085.6,663.4 L1086.8,664.9 L1088.1,666.0 L1089.5,666.6 L1091.3,666.6 L1092.7,665.9 L1094.0,664.7 L1095.1,663.2 L1096.1,661.6 L1097.0,659.9 L1097.9,658.1 L1098.8,656.3 L1099.7,654.5 L1100.6,652.7 L1101.5,650.9 L1102.4,649.2 L1103.4,647.4 L1104.5,645.7 L1105.6,644.1 L1106.7,642.4 L1107.8,640.7 L1108.8,639.0 L1109.9,637.3 L1111.0,635.7 L1112.2,634.0 L1113.3,632.4 L1114.5,630.8 L1115.8,629.4 L1117.2,628.0 L1118.7,627.0 L1120.3,626.2 L1121.9,626.0 L1123.4,626.3 L1124.8,627.2 L1126.0,628.5 L1127.1,630.0 L1128.0,631.7 L1128.9,633.5 L1129.7,635.3 L1130.5,637.1 L1131.3,639.0 L1132.0,640.8 L1132.8,642.7 L1133.7,644.5 L1134.5,646.3 L1135.4,648.1 L1136.3,649.9 L1137.2,651.6 L1138.2,653.4 L1139.1,655.2 L1140.0,657.0 L1140.9,658.7 L1141.8,660.5 L1142.7,662.3 L1143.6,664.1 L1144.5,665.9 L1145.5,667.6 L1146.5,669.3 L1147.6,671.0 L1148.8,672.6 L1150.0,674.0 L1151.4,675.1 L1153.0,675.8 L1154.5,675.9 L1156.1,675.6 L1157.5,674.7 L1158.8,673.4 L1160.0,672.0 L1161.2,670.3 L1162.2,668.6 L1163.2,666.9 L1164.3,665.2 L1165.3,663.5 L1166.4,661.9 L1167.6,660.2 L1168.8,658.6 L1170.0,657.0 L1171.2,655.5 L1172.4,653.9 L1173.6,652.3 L1174.9,650.8 L1176.3,649.4 L1177.7,648.1 L1179.3,647.1 L1180.9,646.4 L1182.7,646.1 L1184.4,646.3 L1186.1,646.9 L1187.8,647.9 L1189.3,649.1 L1190.7,650.4 L1192.0,651.9 L1193.2,653.4 L1194.3,655.1 L1195.2,656.8 L1196.0,658.7 L1196.7,660.5 L1197.3,662.4 L1197.8,664.3 L1198.3,666.3 L1198.8,668.2 L1199.2,670.2 L1199.7,672.1 L1200.2,674.1 L1200.6,676.0 L1201.1,678.0 L1201.5,679.9 L1202.0,681.8 L1202.5,683.8 L1203.1,685.7 L1203.6,687.6 L1204.3,689.5 L1205.0,691.3 L1205.8,693.2 L1206.6,695.0 L1207.5,696.8 L1208.4,698.6 L1209.3,700.4 L1210.2,702.2 L1211.2,703.9 L1212.2,705.6 L1213.2,707.3 L1214.4,708.9 L1215.6,710.4 L1217.0,711.6 L1218.5,712.6 L1220.2,713.1 L1221.8,713.1 L1223.4,712.6 L1225.0,711.6 L1226.5,710.4 L1227.8,709.1 L1229.2,707.6 L1230.6,706.2 L1232.0,704.8 L1233.4,703.5 L1235.0,702.2 L1236.6,701.1 L1238.3,700.0 L1240.0,699.0 L1241.8,698.1 L1243.6,697.4 L1245.4,696.8 L1247.3,696.6 L1249.2,696.6 L1251.0,697.0 L1252.7,697.8 L1254.2,698.8 L1255.7,700.1 L1257.1,701.5 L1258.4,703.0 L1259.6,704.6 L1260.7,706.2 L1261.8,707.9 L1262.9,709.6 L1263.8,711.3 L1264.7,713.1 L1265.5,715.0 L1266.2,716.8 L1266.9,718.7 L1267.5,720.6 L1268.0,722.5 L1268.6,724.4 L1269.2,726.4 L1269.7,728.3 L1270.3,730.2 L1270.8,732.1 L1271.4,734.0 L1272.0,735.9 L1272.6,737.8 L1273.3,739.7 L1274.0,741.6 L1274.8,743.4 L1275.5,745.3 L1276.3,747.1 L1277.1,749.0 L1277.9,750.8 L1278.7,752.6 L1279.5,754.5 L1280.3,756.3 L1281.1,758.1 L1281.9,759.9 L1282.8,761.7 L1283.7,763.5 L1284.7,765.3 L1285.7,767.0 L1286.8,768.6 L1288.0,770.1 L1289.4,771.3 L1290.9,772.2 L1292.5,772.7 L1294.2,772.6 L1296.0,772.2 L1297.7,771.4 L1299.3,770.4 L1301.0,769.4 L1302.8,768.4 L1304.5,767.5 L1306.3,766.7 L1308.2,766.0 L1310.1,765.3 L1312.0,764.8 L1313.9,764.5 L1315.8,764.4 L1317.7,764.6 L1319.5,765.1 L1321.3,765.9 L1323.0,766.9 L1324.5,768.0 L1326.0,769.3 L1327.4,770.7 L1328.8,772.2 L1330.0,773.8 L1331.1,775.4 L1332.1,777.1 L1333.0,778.9 L1333.8,780.7 L1334.6,782.5 L1335.3,784.4 L1335.9,786.3 L1336.6,788.2 L1337.3,790.1 L1337.9,792.0 L1338.5,793.9 L1339.2,795.8 L1339.8,797.7 L1340.4,799.6 L1341.0,801.5 L1341.6,803.4 L1342.1,805.3 L1342.7,807.2 L1343.2,809.2 L1343.7,811.1 L1344.2,813.0 L1344.7,815.0 L1345.3,816.9 L1345.8,818.8 L1346.5,820.7 L1347.1,822.6 L1347.9,824.4 L1348.7,826.2 L1349.6,828.0 L1350.6,829.7 L1351.6,831.5 L1352.6,833.2 L1353.7,834.9 L1354.8,836.5 L1356.0,838.2 L1357.1,839.8 L1358.3,841.4 L1359.6,842.9 L1360.9,844.4 L1362.3,845.8 L1363.8,847.1 L1365.3,848.3 L1367.0,849.4 L1368.8,850.2 L1370.6,850.8 L1372.5,851.2 L1374.4,851.3 L1376.4,851.4 L1378.4,851.3 L1380.4,851.2 L1382.4,851.1 L1384.4,851.0 L1386.4,850.8 L1388.4,850.7 L1390.4,850.6 L1392.4,850.6 L1394.3,850.7 L1396.2,851.0 L1398.0,851.5 L1399.7,852.3 L1401.3,853.4 L1402.7,854.7 L1404.1,856.2 L1405.3,857.7 L1406.5,859.3 L1407.7,860.9 L1408.8,862.5 L1409.9,864.2 L1410.9,865.9 L1411.9,867.7 L1412.8,869.5 L1413.7,871.3 L1414.5,873.1 L1415.3,874.9 L1416.1,876.8 L1416.8,878.6 L1417.6,880.5 L1418.4,882.3 L1419.1,884.1 L1419.9,886.0 L1420.7,887.8 L1421.5,889.7 L1422.3,891.5 L1423.0,893.4 L1423.8,895.2 L1424.6,897.1 L1425.3,898.9 L1426.1,900.7 L1426.9,902.6 L1427.7,904.4 L1428.5,906.2 L1429.4,908.0 L1430.3,909.8 L1431.2,911.6 L1432.1,913.4 L1433.0,915.2 L1433.9,916.9 L1434.9,918.7 L1435.9,920.4 L1437.0,922.1 L1438.2,923.7 L1439.4,925.1 L1440.9,926.5 L1442.4,927.7 L1444.1,928.8 L1445.8,929.7 L1447.6,930.5 L1449.4,931.3 L1451.3,931.9 L1453.2,932.5 L1455.2,933.0 L1457.1,933.4 L1459.1,933.8 L1461.1,934.1 L1463.0,934.3 L1465.0,934.6 L1467.0,934.8 L1469.0,935.2 L1470.9,935.6 L1472.8,936.2 L1474.6,936.9 L1476.3,937.8 L1478.0,938.9 L1479.5,940.1 L1481.1,941.4 L1482.5,942.7 L1483.9,944.2 L1485.3,945.6 L1486.6,947.1 L1487.8,948.7 L1489.0,950.3 L1490.2,951.9 L1491.3,953.5 L1492.5,955.2 L1493.6,956.8 L1494.7,958.5 L1495.8,960.2 L1496.9,961.9 L1497.9,963.6 L1499.0,965.3 L1500.0,967.0 L1501.1,968.7 L1502.1,970.4 L1503.2,972.1 L1504.2,973.8 L1505.3,975.5 L1506.4,977.2 L1507.5,978.8 L1508.5,980.5 L1509.6,982.2 L1510.7,983.9 L1511.9,985.5 L1513.1,987.1 L1514.3,988.7 L1515.6,990.2 L1516.9,991.7 L1518.2,993.2 L1519.6,994.7 L1521.0,996.0 L1522.5,997.4 L1524.0,998.6 L1525.6,999.8 L1527.3,1001.0 L1529.0,1002.1 L1530.7,1003.1 L1532.4,1004.1 L1534.2,1005.0 L1536.0,1005.9 L1537.8,1006.7 L1539.6,1007.5 L1541.4,1008.3 L1543.3,1009.0 L1545.2,1009.7 L1547.1,1010.3 L1549.0,1010.9 L1550.9,1011.4 L1552.9,1011.9 L1554.8,1012.4 L1556.8,1012.8 L1558.7,1013.3 L1560.6,1013.8 L1562.6,1014.3 L1564.5,1014.9 L1566.4,1015.5 L1568.2,1016.3 L1570.0,1017.1 L1571.7,1018.1 L1573.4,1019.1 L1575.0,1020.3 L1576.5,1021.6 L1578.0,1023.0 L1579.4,1024.4 L1580.8,1025.8 L1582.2,1027.2 L1583.6,1028.6 L1585.0,1030.1 L1586.4,1031.5 L1587.7,1033.0 L1589.1,1034.4 L1590.4,1035.9 L1591.8,1037.4 L1593.1,1038.9 L1594.4,1040.4 L1595.8,1041.9 L1597.2,1043.3 L1598.6,1044.7 L1600.0,1046.1 L1601.5,1047.5 L1602.9,1048.8 L1604.4,1050.2 L1606.0,1051.5 L1607.5,1052.7 L1609.1,1054.0 L1610.6,1055.2 L1612.2,1056.4 L1613.9,1057.5 L1615.6,1058.6 L1617.3,1059.7 L1619.0,1060.7 L1620.8,1061.6 L1622.5,1062.5 L1624.3,1063.4 L1626.1,1064.2 L1628.0,1065.0 L1629.8,1065.8 L1631.7,1066.5 L1633.5,1067.3 L1635.4,1067.9 L1637.3,1068.6 L1639.2,1069.2 L1641.1,1069.8 L1643.0,1070.3 L1645.0,1070.8 L1646.9,1071.3 L1648.9,1071.8 L1650.8,1072.3 L1652.8,1072.7 L1654.7,1073.2 L1656.6,1073.6 L1658.6,1074.1 L1660.5,1074.7 L1662.4,1075.2 L1664.3,1075.8 L1666.2,1076.5 L1668.1,1077.2 L1669.9,1078.0 L1671.7,1078.9 L1673.4,1079.9 L1675.1,1080.9 L1676.8,1082.0 L1678.5,1083.1 L1680.2,1084.1 L1681.9,1085.2 L1683.6,1086.3 L1685.3,1087.3 L1687.0,1088.3 L1688.7,1089.4 L1690.4,1090.4 L1692.1,1091.4 L1693.8,1092.5 L1695.6,1093.5 L1697.3,1094.5 L1699.0,1095.5 L1700.8,1096.4 L1702.6,1097.3 L1704.4,1098.2 L1706.2,1099.0 L1708.1,1099.7 L1710.0,1100.3 L1711.9,1100.9 L1713.8,1101.5 L1715.7,1102.0 L1717.6,1102.5 L1719.6,1103.0 L1721.5,1103.4 L1723.5,1103.8 L1725.5,1104.2 L1727.4,1104.6 L1729.4,1104.9 L1731.4,1105.3 L1733.3,1105.6 L1735.3,1106.0 L1737.3,1106.3 L1739.3,1106.6 L1741.2,1106.9 L1743.2,1107.2 L1745.2,1107.4 L1747.2,1107.7 L1749.2,1108.0 L1751.1,1108.2 L1753.1,1108.5 L1755.1,1108.8 L1757.1,1109.1 L1759.0,1109.4 L1761.0,1109.8 L1763.0,1110.2 L1764.9,1110.6 L1766.9,1111.1 L1768.8,1111.6 L1770.7,1112.1 L1772.7,1112.6 L1774.6,1113.2 L1776.5,1113.7 L1778.4,1114.3 L1780.3,1114.8 L1782.3,1115.4 L1784.2,1115.9 L1786.1,1116.5 L1788.1,1117.0 L1790.0,1117.5 L1791.9,1118.0 L1793.9,1118.5 L1795.8,1119.0 L1797.7,1119.4 L1799.7,1119.9 L1801.6,1120.4 L1803.6,1120.8 L1805.5,1121.2 L1807.5,1121.6 L1809.5,1122.0 L1811.4,1122.3 L1813.4,1122.7 L1815.4,1122.9 L1817.4,1123.2 L1819.4,1123.4 L1821.3,1123.7 L1823.3,1123.9 L1825.3,1124.1 L1827.3,1124.3 L1829.3,1124.5 L1831.3,1124.7 L1833.3,1124.9 L1835.3,1125.2 L1837.2,1125.4 L1839.2,1125.7 L1841.2,1125.9 L1843.2,1126.1 L1845.2,1126.4 L1847.2,1126.6 L1849.2,1126.9 L1851.1,1127.1 L1853.1,1127.3 L1855.1,1127.5 L1857.1,1127.7 L1859.1,1127.9 L1861.1,1128.0 L1863.1,1128.2 L1865.1,1128.4 L1867.1,1128.5 L1869.1,1128.7 L1871.1,1128.8 L1873.1,1129.0 L1875.1,1129.1 L1877.1,1129.3 L1879.0,1129.4 L1881.0,1129.5 L1883.0,1129.7 L1885.0,1129.8 L1887.0,1129.9 L1889.0,1130.0 L1891.0,1130.1 L1893.0,1130.2 L1895.0,1130.3 L1897.0,1130.4 L1899.0,1130.5 L1901.0,1130.6 L1903.0,1130.7 L1905.0,1130.8 L1907.0,1130.8 L1909.0,1130.9 L1911.0,1131.0 L1913.0,1131.0 L1915.0,1131.1 L1917.0,1131.2 L1919.0,1131.2 L1921.0,1131.3 L1923.0,1131.4 L1925.0,1131.4 L1927.0,1131.5 L1929.0,1131.6 L1931.0,1131.7 L1933.0,1131.8 L1935.0,1131.9 L1937.0,1132.0 L1939.0,1132.1 L1941.0,1132.2 L1943.0,1132.2 L1945.0,1132.3 L1947.0,1132.3 L1949.0,1132.4 L1951.0,1132.4 L1953.0,1132.4 L1955.0,1132.5 L1957.0,1132.5 L1959.0,1132.5 L1961.0,1132.5 L1963.0,1132.6 L1965.0,1132.6 L1967.0,1132.6 L1969.0,1132.6 L1971.0,1132.6 L1973.0,1132.7 L1975.0,1132.7 L1977.0,1132.7 L1979.0,1132.7 L1981.0,1132.7 L1983.0,1132.8 L1985.0,1132.8 L1987.0,1132.8 L1989.0,1132.8 L1991.0,1132.8 L1993.0,1132.8 L1995.0,1132.9 L1997.0,1132.9 L1999.0,1132.9 L2001.0,1132.9 L2003.0,1132.9 L2005.0,1132.9 L2007.0,1132.9 L2009.0,1132.9 L2011.0,1132.9 L2013.0,1132.9 L2015.0,1133.0 L2017.0,1133.0 L2019.0,1133.0 L2021.0,1133.0 L2023.0,1133.0 L2025.0,1133.0 L2027.0,1133.0 L2029.0,1133.0 L2031.0,1133.0 L2032.9,1133.0 L2034.8,1133.0 L2036.5,1133.0 L2038.1,1133.0 L2038.6,1133.0" stroke="#ff0000" stroke-width="8"/>
<path d="M331.8,61.6 L331.8,63.1 L331.9,64.8 L331.9,66.6 L331.9,68.5 L332.0,70.5 L332.0,72.5 L332.0,74.5 L332.1,76.5 L332.1,78.5 L332.1,80.5 L332.1,82.5 L332.2,84.5 L332.2,86.5 L332.2,88.5 L332.3,90.5 L332.3,92.5 L332.3,94.5 L332.4,96.5 L332.4,98.5 L332.4,100.5 L332.5,102.5 L332.5,104.5 L332.5,106.5 L332.6,108.5 L332.6,110.5 L332.6,112.5 L332.6,114.5 L332.7,116.5 L332.7,118.5 L332.7,120.5 L332.8,122.5 L332.8,124.5 L332.8,126.5 L332.9,128.5 L332.9,130.5 L332.9,132.5 L333.0,134.5 L333.0,136.5 L333.0,138.5 L333.1,140.5 L333.1,142.5 L333.1,144.5 L333.1,146.5 L333.2,148.5 L333.2,150.5 L333.2,152.5 L333.3,154.5 L333.3,156.5 L333.3,158.5 L333.4,160.5 L333.4,162.5 L333.4,164.5 L333.5,166.5 L333.5,168.5 L333.5,170.5 L333.6,172.5 L333.6,174.5 L333.6,176.5 L333.7,178.5 L333.7,180.5 L333.7,182.5 L333.8,184.5 L333.8,186.5 L333.9,188.5 L333.9,190.5 L333.9,192.5 L334.0,194.5 L334.0,196.5 L334.0,198.5 L334.1,200.5 L334.1,202.5 L334.2,204.5 L334.2,206.5 L334.2,208.5 L334.3,210.5 L334.3,212.5 L334.3,214.5 L334.4,216.5 L334.4,218.5 L334.5,220.5 L334.5,222.5 L334.5,224.5 L334.6,226.5 L334.6,228.5 L334.7,230.5 L334.7,232.5 L334.8,234.5 L334.8,236.5 L334.8,238.5 L334.9,240.5 L334.9,242.5 L335.0,244.5 L335.0,246.5 L335.0,248.5 L335.1,250.5 L335.1,252.5 L335.2,254.5 L335.2,256.5 L335.3,258.5 L335.3,260.5 L335.3,262.5 L335.4,264.5 L335.4,266.5 L335.5,268.5 L335.5,270.5 L335.6,272.5 L335.6,274.5 L335.7,276.5 L335.7,278.5 L335.7,280.5 L335.8,282.5 L335.8,284.5 L335.9,286.5 L335.9,288.5 L336.0,290.5 L336.0,292.5 L336.1,294.5 L336.1,296.5 L336.2,298.5 L336.2,300.5 L336.3,302.5 L336.3,304.5 L336.4,306.5 L336.4,308.5 L336.5,310.5 L336.5,312.5 L336.5,314.5 L336.6,316.5 L336.7,318.5 L336.7,320.5 L336.8,322.5 L336.8,324.5 L336.9,326.5 L336.9,328.4 L337.0,330.4 L337.0,332.4 L337.1,334.4 L337.1,336.4 L337.2,338.4 L337.2,340.4 L337.3,342.4 L337.3,344.4 L337.4,346.4 L337.5,348.4 L337.5,350.4 L337.6,352.4 L337.6,354.4 L337.7,356.4 L337.8,358.4 L337.8,360.4 L337.9,362.4 L337.9,364.4 L338.0,366.4 L338.1,368.4 L338.1,370.4 L338.2,372.4 L338.3,374.4 L338.3,376.4 L338.4,378.4 L338.5,380.4 L338.5,382.4 L338.6,384.4 L338.7,386.4 L338.7,388.4 L338.8,390.4 L338.9,392.4 L338.9,394.4 L339.0,396.4 L339.1,398.4 L339.2,400.4 L339.2,402.4 L339.3,404.4 L339.4,406.4 L339.5,408.4 L339.5,410.4 L339.6,412.4 L339.7,414.4 L339.8,416.4 L339.8,418.4 L339.9,420.4 L340.0,422.4 L340.1,424.4 L340.2,426.4 L340.2,428.4 L340.3,430.4 L340.4,432.4 L340.5,434.4 L340.6,436.4 L340.7,438.4 L340.7,440.4 L340.8,442.4 L340.9,444.4 L341.0,446.4 L341.1,448.4 L341.2,450.4 L341.2,452.4 L341.3,454.4 L341.4,456.4 L341.5,458.4 L341.6,460.4 L341.7,462.4 L341.8,464.4 L341.8,466.4 L341.9,468.4 L342.0,470.4 L342.1,472.4 L342.2,474.4 L342.3,476.4 L342.4,478.3 L342.5,480.3 L342.5,482.3 L342.6,484.3 L342.7,486.3 L342.8,488.3 L342.9,490.3 L343.0,492.3 L343.1,494.3 L343.2,496.3 L343.3,498.3 L343.4,500.3 L343.5,502.3 L343.6,504.3 L343.7,506.3 L343.8,508.3 L343.8,510.3 L343.9,512.3 L344.0,514.3 L344.1,516.3 L344.2,518.3 L344.3,520.3 L344.4,522.3 L344.5,524.3 L344.6,526.3 L344.7,528.3 L344.8,530.3 L344.9,532.3 L345.0,534.3 L345.1,536.3 L345.2,538.3 L345.3,540.3 L345.4,542.3 L345.5,544.3 L345.6,546.3 L345.7,548.3 L345.8,550.3 L345.9,552.3 L346.0,554.3 L346.1,556.3 L346.2,558.3 L346.3,560.3 L346.4,562.3 L346.5,564.2 L346.6,566.2 L346.7,568.2 L346.8,570.2 L346.9,572.2 L347.0,574.2 L347.1,576.2 L347.2,578.2 L347.3,580.2 L347.4,582.2 L347.5,584.2 L347.6,586.2 L347.7,588.2 L347.8,590.2 L347.9,592.2 L348.0,594.2 L348.1,596.2 L348.2,598.2 L348.3,600.2 L348.4,602.2 L348.5,604.2 L348.6,606.2 L348.7,608.2 L348.8,610.2 L348.9,612.2 L349.0,614.2 L349.1,616.2 L349.2,618.2 L349.3,620.2 L349.4,622.2 L349.5,624.2 L349.6,626.2 L349.6,628.2 L349.7,630.2 L349.8,632.2 L349.9,634.2 L350.0,636.2 L350.1,638.2 L350.2,640.2 L350.3,642.2 L350.4,644.2 L350.5,646.2 L350.6,648.1 L350.7,650.1 L350.8,652.1 L350.9,654.1 L351.0,656.1 L351.0,658.1 L351.1,660.1 L351.2,662.1 L351.3,664.1 L351.4,666.1 L351.5,668.1 L351.6,670.1 L351.7,672.1 L351.8,674.1 L351.9,676.1 L352.0,678.1 L352.2,680.1 L352.3,682.1 L352.4,684.1 L352.5,686.1 L352.6,688.1 L352.7,690.1 L352.8,692.1 L353.0,694.1 L353.1,696.1 L353.2,698.1 L353.3,700.1 L353.5,702.1 L353.6,704.1 L353.7,706.1 L353.9,708.1 L354.0,710.1 L354.2,712.0 L354.3,714.0 L354.4,716.0 L354.6,718.0 L354.7,720.0 L354.9,722.0 L355.0,724.0 L355.2,726.0 L355.3,728.0 L355.5,730.0 L355.6,732.0 L355.8,734.0 L355.9,736.0 L356.1,738.0 L356.2,740.0 L356.4,742.0 L356.6,744.0 L356.7,745.9 L356.9,747.9 L357.1,749.9 L357.2,751.9 L357.4,753.9 L357.6,755.9 L357.8,757.9 L357.9,759.9 L358.1,761.9 L358.3,763.9 L358.5,765.9 L358.7,767.9 L358.9,769.9 L359.0,771.8 L359.2,773.8 L359.4,775.8 L359.6,777.8 L359.8,779.8 L360.0,781.8 L360.2,783.8 L360.5,785.8 L360.7,787.8 L360.9,789.8 L361.1,791.7 L361.3,793.7 L361.6,795.7 L361.8,797.7 L362.0,799.7 L362.3,801.7 L362.5,803.7 L362.8,805.6 L363.1,807.6 L363.3,809.6 L363.6,811.6 L363.9,813.6 L364.2,815.5 L364.4,817.5 L364.7,819.5 L365.0,821.5 L365.3,823.5 L365.6,825.4 L365.8,827.4 L366.1,829.4 L366.4,831.4 L366.6,833.4 L366.9,835.4 L367.2,837.3 L367.4,839.3 L367.7,841.3 L367.9,843.3 L368.1,845.3 L368.4,847.3 L368.6,849.2 L368.9,851.2 L369.1,853.2 L369.3,855.2 L369.6,857.2 L369.8,859.2 L370.0,861.2 L370.3,863.1 L370.5,865.1 L370.8,867.1 L371.0,869.1 L371.3,871.1 L371.5,873.1 L371.8,875.1 L372.0,877.0 L372.3,879.0 L372.6,881.0 L372.9,883.0 L373.1,885.0 L373.4,886.9 L373.7,888.9 L374.0,890.9 L374.3,892.9 L374.6,894.9 L374.9,896.8 L375.2,898.8 L375.5,900.8 L375.9,902.8 L376.2,904.7 L376.5,906.7 L376.8,908.7 L377.2,910.6 L377.5,912.6 L377.8,914.6 L378.2,916.6 L378.5,918.5 L378.9,920.5 L379.3,922.5 L379.6,924.4 L380.0,926.4 L380.4,928.4 L380.8,930.3 L381.2,932.3 L381.6,934.2 L381.9,936.2 L382.4,938.2 L382.8,940.1 L383.2,942.1 L383.6,944.0 L384.0,946.0 L384.4,947.9 L384.9,949.9 L385.3,951.8 L385.7,953.8 L386.2,955.7 L386.6,957.7 L387.1,959.6 L387.6,961.6 L388.1,963.5 L388.6,965.5 L389.1,967.4 L389.6,969.3 L390.2,971.2 L390.7,973.2 L391.3,975.1 L391.9,977.0 L392.5,978.9 L393.1,980.8 L393.7,982.7 L394.4,984.6 L395.1,986.5 L395.8,988.3 L396.5,990.2 L397.2,992.1 L397.9,993.9 L398.6,995.8 L399.4,997.6 L400.2,999.5 L401.0,1001.3 L401.7,1003.2 L402.5,1005.0 L403.3,1006.8 L404.1,1008.7 L404.9,1010.5 L405.7,1012.4 L406.5,1014.2 L407.4,1016.0 L408.2,1017.8 L409.1,1019.6 L410.1,1021.3 L411.1,1023.0 L412.2,1024.7 L413.4,1026.3 L414.7,1027.8 L416.0,1029.3 L417.4,1030.7 L418.9,1032.0 L420.4,1033.4 L421.9,1034.6 L423.5,1035.8 L425.2,1036.9 L426.9,1038.0 L428.6,1038.9 L430.4,1039.8 L432.2,1040.6 L434.1,1041.4 L435.9,1042.1 L437.8,1042.7 L439.8,1043.3 L441.7,1043.8 L443.6,1044.3 L445.6,1044.8 L447.5,1045.2 L449.5,1045.7 L451.4,1046.1 L453.4,1046.5 L455.3,1047.0 L457.3,1047.5 L459.2,1047.9 L461.1,1048.4 L463.1,1048.9 L465.0,1049.4 L467.0,1049.8 L468.9,1050.2 L470.9,1050.6 L472.9,1051.0 L474.8,1051.2 L476.8,1051.5 L478.8,1051.6 L480.8,1051.7 L482.8,1051.8 L484.8,1051.9 L486.8,1052.0 L488.8,1052.1 L490.8,1052.1 L492.8,1052.2 L494.8,1052.2 L496.8,1052.3 L498.8,1052.3 L500.8,1052.3 L502.8,1052.4 L504.8,1052.4 L506.8,1052.4 L508.8,1052.4 L510.8,1052.4 L512.8,1052.4 L514.8,1052.4 L516.8,1052.4 L518.8,1052.4 L520.8,1052.3 L522.8,1052.3 L524.8,1052.3 L526.8,1052.3 L528.8,1052.3 L530.8,1052.2 L532.8,1052.2 L534.8,1052.1 L536.8,1052.0 L538.7,1051.8 L540.7,1051.5 L542.6,1051.1 L544.5,1050.6 L546.4,1050.0 L548.3,1049.5 L550.3,1049.0 L552.2,1048.6 L554.2,1048.4 L556.2,1048.1 L558.2,1047.9 L560.2,1047.7 L562.2,1047.6 L564.1,1047.4 L566.1,1047.2 L568.1,1047.0 L570.1,1046.8 L572.1,1046.6 L574.1,1046.4 L576.1,1046.1 L578.0,1045.7 L580.0,1045.3 L582.0,1044.9 L583.9,1044.5 L585.8,1044.0 L587.8,1043.5 L589.7,1043.0 L591.6,1042.5 L593.6,1041.9 L595.5,1041.4 L597.4,1040.8 L599.3,1040.2 L601.2,1039.6 L603.1,1038.9 L605.0,1038.2 L606.8,1037.5 L608.7,1036.8 L610.6,1036.1 L612.4,1035.3 L614.2,1034.5 L616.1,1033.7 L617.9,1032.9 L619.7,1032.1 L621.5,1031.2 L623.4,1030.4 L625.2,1029.5 L626.9,1028.6 L628.7,1027.7 L630.5,1026.8 L632.3,1025.9 L634.0,1024.9 L635.8,1024.0 L637.5,1023.0 L639.3,1022.0 L641.0,1021.0 L642.7,1020.0 L644.4,1018.9 L646.1,1017.9 L647.8,1016.9 L649.6,1015.8 L651.3,1014.8 L653.0,1013.8 L654.7,1012.8 L656.5,1011.8 L658.3,1010.9 L660.0,1009.9 L661.8,1009.0 L663.5,1008.1 L665.3,1007.1 L667.0,1006.1 L668.7,1005.0 L670.4,1003.9 L672.0,1002.8 L673.7,1001.7 L675.3,1000.5 L676.9,999.3 L678.5,998.1 L680.1,996.9 L681.7,995.7 L683.3,994.5 L684.9,993.4 L686.6,992.2 L688.2,991.0 L689.8,989.8 L691.4,988.6 L693.0,987.4 L694.5,986.2 L696.1,984.9 L697.6,983.6 L699.0,982.2 L700.5,980.8 L701.9,979.4 L703.3,978.0 L704.7,976.5 L706.1,975.1 L707.4,973.6 L708.8,972.2 L710.2,970.7 L711.5,969.2 L712.8,967.8 L714.2,966.3 L715.5,964.8 L716.9,963.4 L718.3,961.9 L719.8,960.5 L721.2,959.2 L722.7,957.9 L724.2,956.6 L725.8,955.3 L727.3,954.0 L728.9,952.7 L730.4,951.4 L731.9,950.1 L733.4,948.8 L734.9,947.5 L736.3,946.1 L737.7,944.7 L739.1,943.2 L740.5,941.8 L741.9,940.3 L743.2,938.8 L744.5,937.3 L745.9,935.8 L747.2,934.3 L748.5,932.8 L749.7,931.3 L751.0,929.7 L752.3,928.2 L753.5,926.6 L754.7,925.0 L755.9,923.4 L757.1,921.8 L758.2,920.2 L759.4,918.5 L760.6,916.9 L761.8,915.3 L763.0,913.8 L764.3,912.3 L765.7,910.9 L767.2,909.5 L768.8,908.3 L770.4,907.2 L772.1,906.2 L773.9,905.3 L775.6,904.3 L777.4,903.4 L779.1,902.3 L780.7,901.2 L782.2,899.9 L783.6,898.5 L784.8,897.0 L786.0,895.4 L787.1,893.8 L788.2,892.1 L789.3,890.4 L790.3,888.7 L791.3,887.0 L792.4,885.3 L793.4,883.6 L794.5,881.9 L795.7,880.2 L796.8,878.6 L797.9,876.9 L799.1,875.3 L800.2,873.7 L801.4,872.1 L802.6,870.5 L803.9,868.9 L805.2,867.4 L806.5,866.0 L808.0,864.6 L809.5,863.3 L811.0,862.0 L812.6,860.8 L814.2,859.6 L815.9,858.5 L817.5,857.4 L819.1,856.2 L820.7,855.0 L822.3,853.7 L823.7,852.4 L825.2,851.0 L826.5,849.5 L827.8,848.0 L829.1,846.5 L830.3,844.9 L831.5,843.3 L832.7,841.7 L833.8,840.0 L834.8,838.3 L835.9,836.6 L836.8,834.9 L837.8,833.1 L838.6,831.3 L839.4,829.5 L840.2,827.6 L841.0,825.8 L841.7,823.9 L842.5,822.1 L843.3,820.2 L844.1,818.4 L844.9,816.6 L845.9,814.8 L846.8,813.1 L847.9,811.4 L849.0,809.8 L850.2,808.2 L851.5,806.6 L852.8,805.2 L854.2,803.8 L855.8,802.6 L857.4,801.6 L859.2,800.8 L861.1,800.2 L863.0,799.6 L864.9,799.1 L866.8,798.5 L868.6,797.8 L870.4,797.0 L872.0,796.0 L873.5,794.8 L875.0,793.4 L876.3,791.9 L877.5,790.4 L878.7,788.8 L879.9,787.1 L881.0,785.5 L882.1,783.8 L883.1,782.1 L884.1,780.3 L885.0,778.6 L885.9,776.8 L886.7,775.0 L887.5,773.1 L888.3,771.3 L889.1,769.5 L890.0,767.7 L890.8,765.9 L891.7,764.1 L892.6,762.3 L893.6,760.5 L894.6,758.8 L895.6,757.1 L896.6,755.3 L897.6,753.6 L898.6,751.9 L899.7,750.3 L900.9,748.7 L902.2,747.2 L903.6,746.1 L905.1,745.2 L906.8,744.7 L908.6,744.7 L910.5,745.0 L912.3,745.5 L914.2,746.0 L916.0,746.3 L917.8,746.4 L919.5,746.0 L921.1,745.2 L922.5,744.1 L923.8,742.7 L924.9,741.1 L926.0,739.5 L927.1,737.8 L928.1,736.0 L929.1,734.3 L930.0,732.5 L930.9,730.7 L931.7,728.9 L932.5,727.1 L933.2,725.2 L933.9,723.3 L934.6,721.5 L935.3,719.6 L935.9,717.7 L936.6,715.8 L937.3,713.9 L937.9,712.0 L938.7,710.2 L939.4,708.3 L940.2,706.5 L941.0,704.7 L942.0,703.0 L943.0,701.3 L944.2,699.7 L945.5,698.2 L946.9,696.7 L948.3,695.4 L949.8,694.1 L951.5,693.1 L953.2,692.2 L954.9,691.6 L956.7,691.4 L958.6,691.5 L960.4,692.0 L962.1,692.8 L963.8,693.8 L965.4,694.9 L967.1,696.0 L968.8,696.9 L970.5,697.5 L972.2,697.8 L973.9,697.6 L975.5,696.9 L977.0,695.9 L978.3,694.5 L979.5,693.0 L980.7,691.4 L981.7,689.7 L982.7,688.0 L983.7,686.2 L984.6,684.4 L985.4,682.6 L986.1,680.8 L986.8,678.9 L987.5,677.0 L988.1,675.1 L988.7,673.2 L989.3,671.3 L989.9,669.4 L990.5,667.5 L991.1,665.6 L991.8,663.7 L992.5,661.8 L993.2,660.0 L994.1,658.1 L994.9,656.4 L995.9,654.6 L996.8,652.8 L997.8,651.1 L998.9,649.4 L1000.0,647.8 L1001.2,646.2 L1002.5,644.9 L1004.0,643.8 L1005.5,643.2 L1007.2,643.0 L1008.9,643.3 L1010.5,644.0 L1012.1,645.1 L1013.6,646.4 L1015.0,647.8 L1016.3,649.2 L1017.6,650.7 L1018.9,652.3 L1020.2,653.8 L1021.5,655.3 L1022.9,656.7 L1024.4,658.0 L1025.9,659.0 L1027.6,659.8 L1029.2,660.1 L1030.9,660.0 L1032.4,659.3 L1033.8,658.2 L1035.0,656.8 L1036.1,655.2 L1037.2,653.5 L1038.1,651.8 L1039.1,650.0 L1040.0,648.2 L1040.9,646.4 L1041.8,644.7 L1042.7,642.9 L1043.5,641.1 L1044.4,639.2 L1045.2,637.4 L1045.9,635.6 L1046.7,633.7 L1047.4,631.8 L1048.1,630.0 L1048.9,628.1 L1049.7,626.3 L1050.5,624.5 L1051.5,622.7 L1052.4,621.0 L1053.5,619.3 L1054.6,617.7 L1055.8,616.1 L1057.1,614.6 L1058.5,613.2 L1059.9,612.1 L1061.5,611.3 L1063.1,610.9 L1064.8,611.1 L1066.3,611.7 L1067.8,612.8 L1069.1,614.1 L1070.4,615.7 L1071.6,617.3 L1072.7,618.9 L1073.8,620.6 L1074.9,622.2 L1076.0,623.9 L1077.1,625.6 L1078.1,627.3 L1079.1,629.0 L1080.1,630.7 L1081.1,632.5 L1082.0,634.3 L1082.9,636.0 L1083.9,637.8 L1084.9,639.5 L1086.0,641.0 L1087.2,642.3 L1088.6,643.3 L1090.4,643.7 L1092.1,643.2 L1093.4,642.1 L1094.6,640.8 L1095.6,639.1 L1096.5,637.4 L1097.4,635.6 L1098.2,633.8 L1099.1,632.0 L1099.9,630.2 L1100.8,628.4 L1101.7,626.6 L1102.7,624.9 L1103.7,623.2 L1104.8,621.5 L1105.9,619.8 L1107.0,618.2 L1108.2,616.5 L1109.3,614.9 L1110.5,613.3 L1111.7,611.7 L1112.9,610.1 L1114.2,608.6 L1115.5,607.2 L1117.0,605.9 L1118.5,604.8 L1120.1,604.1 L1121.8,603.9 L1123.4,604.2 L1124.8,605.0 L1126.1,606.2 L1127.3,607.7 L1128.3,609.4 L1129.2,611.1 L1130.1,612.9 L1130.9,614.7 L1131.8,616.6 L1132.6,618.4 L1133.4,620.2 L1134.3,622.0 L1135.2,623.8 L1136.1,625.6 L1137.0,627.3 L1137.9,629.1 L1138.8,630.9 L1139.6,632.7 L1140.4,634.6 L1141.2,636.4 L1142.1,638.2 L1142.9,640.0 L1143.7,641.9 L1144.5,643.7 L1145.3,645.5 L1146.2,647.3 L1147.1,649.1 L1148.1,650.8 L1149.2,652.4 L1150.4,653.8 L1151.8,655.0 L1153.2,655.7 L1154.7,655.8 L1156.2,655.4 L1157.6,654.5 L1158.9,653.2 L1160.0,651.6 L1161.0,649.9 L1162.0,648.2 L1163.0,646.5 L1164.0,644.7 L1165.0,643.0 L1166.0,641.3 L1167.1,639.7 L1168.3,638.0 L1169.5,636.4 L1170.7,634.8 L1171.9,633.2 L1173.1,631.6 L1174.3,630.1 L1175.6,628.6 L1177.0,627.1 L1178.4,625.8 L1180.0,624.8 L1181.6,624.0 L1183.3,623.7 L1185.0,623.9 L1186.7,624.5 L1188.2,625.5 L1189.7,626.7 L1191.0,628.2 L1192.2,629.7 L1193.4,631.4 L1194.4,633.0 L1195.5,634.7 L1196.5,636.5 L1197.4,638.2 L1198.2,640.0 L1199.0,641.9 L1199.7,643.8 L1200.3,645.7 L1200.9,647.6 L1201.5,649.5 L1202.0,651.4 L1202.6,653.3 L1203.1,655.3 L1203.6,657.2 L1204.2,659.1 L1204.7,661.0 L1205.3,663.0 L1205.9,664.9 L1206.5,666.8 L1207.1,668.7 L1207.8,670.5 L1208.5,672.4 L1209.2,674.3 L1209.9,676.2 L1210.6,678.0 L1211.3,679.9 L1212.0,681.8 L1212.8,683.6 L1213.5,685.5 L1214.4,687.3 L1215.3,689.0 L1216.3,690.5 L1217.5,691.8 L1218.9,692.6 L1220.5,693.0 L1222.0,692.7 L1223.6,692.0 L1225.2,691.0 L1226.6,689.7 L1228.1,688.4 L1229.5,686.9 L1230.9,685.6 L1232.4,684.2 L1233.9,683.0 L1235.5,681.8 L1237.1,680.6 L1238.8,679.6 L1240.5,678.6 L1242.3,677.8 L1244.1,677.1 L1246.0,676.7 L1247.8,676.7 L1249.6,677.1 L1251.3,677.8 L1252.9,678.8 L1254.4,680.0 L1255.8,681.4 L1257.2,682.9 L1258.4,684.4 L1259.6,686.0 L1260.8,687.6 L1261.9,689.3 L1262.9,691.0 L1263.9,692.7 L1264.9,694.5 L1265.7,696.3 L1266.5,698.1 L1267.2,700.0 L1267.9,701.9 L1268.5,703.7 L1269.1,705.7 L1269.7,707.6 L1270.3,709.5 L1270.9,711.4 L1271.5,713.3 L1272.1,715.2 L1272.7,717.1 L1273.3,719.0 L1273.9,720.9 L1274.6,722.8 L1275.3,724.7 L1276.0,726.6 L1276.7,728.4 L1277.5,730.3 L1278.2,732.1 L1279.0,734.0 L1279.8,735.8 L1280.5,737.7 L1281.3,739.5 L1282.1,741.4 L1282.8,743.2 L1283.6,745.0 L1284.4,746.8 L1285.3,748.6 L1286.2,750.4 L1287.2,752.1 L1288.3,753.7 L1289.6,755.0 L1291.0,756.0 L1292.5,756.4 L1294.2,756.4 L1295.8,755.9 L1297.4,755.0 L1298.9,753.9 L1300.5,752.7 L1302.2,751.7 L1303.9,750.7 L1305.7,749.9 L1307.5,749.2 L1309.4,748.6 L1311.3,748.0 L1313.3,747.6 L1315.2,747.3 L1317.2,747.1 L1319.1,747.1 L1320.9,747.5 L1322.6,748.1 L1324.2,749.1 L1325.6,750.4 L1327.0,751.8 L1328.2,753.3 L1329.4,755.0 L1330.5,756.6 L1331.6,758.3 L1332.6,760.0 L1333.6,761.7 L1334.6,763.4 L1335.5,765.2 L1336.4,767.0 L1337.2,768.8 L1338.0,770.7 L1338.8,772.5 L1339.6,774.3 L1340.3,776.2 L1341.0,778.1 L1341.8,779.9 L1342.5,781.8 L1343.1,783.7 L1343.8,785.6 L1344.4,787.5 L1345.0,789.4 L1345.5,791.3 L1346.1,793.2 L1346.6,795.2 L1347.1,797.1 L1347.6,799.0 L1348.2,801.0 L1348.7,802.9 L1349.2,804.8 L1349.7,806.8 L1350.3,808.7 L1350.9,810.6 L1351.5,812.5 L1352.2,814.3 L1353.0,816.2 L1353.9,818.0 L1354.8,819.7 L1355.8,821.5 L1356.8,823.2 L1357.9,824.9 L1359.0,826.5 L1360.2,828.1 L1361.3,829.7 L1362.6,831.3 L1363.9,832.8 L1365.3,834.1 L1366.9,835.4 L1368.5,836.4 L1370.2,837.1 L1372.1,837.7 L1374.0,838.0 L1376.0,838.1 L1377.9,838.0 L1379.9,838.0 L1381.9,837.8 L1383.9,837.7 L1385.9,837.5 L1387.9,837.4 L1389.9,837.3 L1391.9,837.3 L1393.8,837.3 L1395.7,837.6 L1397.6,838.1 L1399.3,838.9 L1400.9,839.9 L1402.3,841.2 L1403.7,842.6 L1404.9,844.2 L1406.2,845.7 L1407.4,847.3 L1408.6,848.9 L1409.9,850.5 L1411.1,852.0 L1412.3,853.6 L1413.5,855.2 L1414.7,856.9 L1415.8,858.5 L1416.9,860.2 L1418.0,861.9 L1419.0,863.6 L1420.0,865.3 L1420.9,867.1 L1421.8,868.9 L1422.6,870.7 L1423.3,872.5 L1424.0,874.4 L1424.7,876.3 L1425.2,878.2 L1425.8,880.1 L1426.3,882.1 L1426.8,884.0 L1427.3,885.9 L1427.8,887.9 L1428.4,889.8 L1428.9,891.7 L1429.5,893.6 L1430.2,895.5 L1430.9,897.4 L1431.7,899.2 L1432.5,901.1 L1433.3,902.9 L1434.2,904.7 L1435.1,906.4 L1436.1,908.2 L1437.1,909.9 L1438.2,911.6 L1439.3,913.2 L1440.5,914.8 L1441.8,916.3 L1443.2,917.8 L1444.6,919.2 L1446.1,920.5 L1447.6,921.6 L1449.3,922.6 L1451.1,923.3 L1453.0,923.8 L1454.9,924.2 L1456.9,924.4 L1458.9,924.5 L1460.9,924.7 L1462.8,924.8 L1464.8,925.0 L1466.8,925.3 L1468.7,925.7 L1470.6,926.3 L1472.5,926.9 L1474.3,927.7 L1476.1,928.6 L1477.8,929.6 L1479.5,930.7 L1481.1,931.9 L1482.6,933.2 L1484.1,934.5 L1485.5,935.9 L1486.8,937.4 L1488.2,938.9 L1489.4,940.4 L1490.6,942.0 L1491.8,943.6 L1492.9,945.3 L1494.0,946.9 L1495.1,948.6 L1496.1,950.3 L1497.2,952.0 L1498.2,953.8 L1499.2,955.5 L1500.2,957.2 L1501.2,959.0 L1502.2,960.7 L1503.1,962.5 L1504.1,964.2 L1505.0,966.0 L1506.0,967.7 L1507.0,969.5 L1508.0,971.2 L1509.0,972.9 L1510.0,974.6 L1511.1,976.3 L1512.2,978.0 L1513.3,979.6 L1514.5,981.3 L1515.6,982.9 L1516.8,984.5 L1518.1,986.0 L1519.4,987.6 L1520.7,989.0 L1522.1,990.5 L1523.5,991.9 L1525.0,993.2 L1526.5,994.5 L1528.1,995.8 L1529.7,997.0 L1531.3,998.1 L1533.0,999.1 L1534.8,1000.1 L1536.5,1001.1 L1538.3,1002.0 L1540.1,1002.8 L1541.9,1003.6 L1543.8,1004.4 L1545.7,1005.1 L1547.6,1005.7 L1549.5,1006.3 L1551.4,1006.8 L1553.3,1007.3 L1555.3,1007.8 L1557.2,1008.3 L1559.1,1008.8 L1561.1,1009.3 L1563.0,1009.9 L1564.9,1010.5 L1566.8,1011.1 L1568.6,1011.9 L1570.4,1012.8 L1572.1,1013.8 L1573.7,1014.9 L1575.3,1016.1 L1576.8,1017.4 L1578.3,1018.7 L1579.8,1020.1 L1581.2,1021.5 L1582.6,1022.9 L1584.0,1024.3 L1585.4,1025.8 L1586.7,1027.2 L1588.1,1028.7 L1589.4,1030.2 L1590.7,1031.7 L1592.0,1033.2 L1593.3,1034.7 L1594.7,1036.2 L1596.0,1037.7 L1597.4,1039.2 L1598.7,1040.6 L1600.1,1042.1 L1601.6,1043.4 L1603.0,1044.8 L1604.5,1046.2 L1606.0,1047.5 L1607.5,1048.8 L1609.0,1050.1 L1610.6,1051.3 L1612.2,1052.5 L1613.8,1053.7 L1615.5,1054.8 L1617.2,1055.8 L1619.0,1056.7 L1620.7,1057.6 L1622.6,1058.5 L1624.4,1059.3 L1626.3,1060.0 L1628.1,1060.7 L1630.0,1061.4 L1631.9,1062.1 L1633.8,1062.7 L1635.7,1063.4 L1637.6,1064.0 L1639.5,1064.6 L1641.4,1065.2 L1643.3,1065.8 L1645.2,1066.3 L1647.1,1066.8 L1649.1,1067.4 L1651.0,1067.9 L1653.0,1068.4 L1654.9,1068.9 L1656.8,1069.4 L1658.7,1069.9 L1660.7,1070.5 L1662.6,1071.1 L1664.4,1071.8 L1666.3,1072.5 L1668.1,1073.3 L1670.0,1074.1 L1671.7,1075.0 L1673.5,1076.0 L1675.2,1077.0 L1676.9,1078.1 L1678.5,1079.2 L1680.2,1080.3 L1681.9,1081.3 L1683.6,1082.4 L1685.3,1083.4 L1687.1,1084.4 L1688.8,1085.4 L1690.5,1086.4 L1692.3,1087.4 L1694.0,1088.3 L1695.8,1089.3 L1697.6,1090.2 L1699.3,1091.2 L1701.1,1092.1 L1702.9,1093.0 L1704.7,1093.9 L1706.4,1094.8 L1708.2,1095.7 L1710.0,1096.5 L1711.9,1097.4 L1713.7,1098.2 L1715.5,1099.0 L1717.3,1099.8 L1719.2,1100.5 L1721.1,1101.0 L1723.0,1101.5 L1725.0,1101.9 L1727.0,1102.2 L1729.0,1102.4 L1730.9,1102.6 L1732.9,1102.8 L1734.9,1103.0 L1736.9,1103.2 L1738.9,1103.4 L1740.9,1103.6 L1742.9,1103.8 L1744.9,1103.9 L1746.9,1104.1 L1748.9,1104.3 L1750.9,1104.5 L1752.8,1104.7 L1754.8,1105.0 L1756.8,1105.2 L1758.8,1105.5 L1760.8,1105.8 L1762.7,1106.1 L1764.7,1106.4 L1766.7,1106.8 L1768.7,1107.1 L1770.6,1107.5 L1772.6,1107.9 L1774.5,1108.3 L1776.5,1108.8 L1778.4,1109.3 L1780.4,1109.8 L1782.3,1110.3 L1784.2,1110.8 L1786.1,1111.3 L1788.1,1111.9 L1790.0,1112.5 L1791.9,1113.1 L1793.8,1113.7 L1795.7,1114.4 L1797.6,1115.0 L1799.5,1115.6 L1801.4,1116.2 L1803.3,1116.8 L1805.2,1117.3 L1807.2,1117.7 L1809.1,1118.1 L1811.1,1118.5 L1813.1,1118.8 L1815.0,1119.2 L1817.0,1119.5 L1819.0,1119.8 L1821.0,1120.1 L1822.9,1120.3 L1824.9,1120.6 L1826.9,1120.9 L1828.9,1121.1 L1830.9,1121.4 L1832.9,1121.7 L1834.8,1121.9 L1836.8,1122.2 L1838.8,1122.4 L1840.8,1122.6 L1842.8,1122.9 L1844.8,1123.1 L1846.8,1123.3 L1848.7,1123.6 L1850.7,1123.8 L1852.7,1124.0 L1854.7,1124.2 L1856.7,1124.3 L1858.7,1124.5 L1860.7,1124.7 L1862.7,1124.8 L1864.7,1125.0 L1866.7,1125.1 L1868.7,1125.3 L1870.7,1125.4 L1872.7,1125.5 L1874.7,1125.7 L1876.7,1125.8 L1878.7,1125.8 L1880.7,1125.9 L1882.6,1126.0 L1884.6,1126.1 L1886.6,1126.2 L1888.6,1126.3 L1890.6,1126.4 L1892.6,1126.5 L1894.6,1126.6 L1896.6,1126.8 L1898.6,1127.1 L1900.5,1127.4 L1902.5,1127.8 L1904.4,1128.3 L1906.2,1128.7 L1908.2,1129.1 L1910.1,1129.4 L1912.1,1129.5 L1914.1,1129.6 L1916.1,1129.6 L1918.1,1129.6 L1920.1,1129.6 L1922.1,1129.6 L1924.1,1129.6 L1926.1,1129.7 L1928.1,1129.7 L1930.1,1129.7 L1932.1,1129.7 L1934.1,1129.7 L1936.0,1129.7 L1938.0,1129.8 L1940.0,1130.0 L1941.9,1130.2 L1943.8,1130.6 L1945.7,1131.1 L1947.6,1131.5 L1949.5,1131.7 L1951.4,1131.9 L1953.4,1132.0 L1955.4,1132.1 L1957.4,1132.1 L1959.4,1132.1 L1961.4,1132.1 L1963.4,1132.1 L1965.4,1132.1 L1967.4,1132.1 L1969.4,1132.1 L1971.4,1132.1 L1973.4,1132.1 L1975.4,1132.1 L1977.4,1132.1 L1979.4,1132.1 L1981.4,1132.1 L1983.4,1132.1 L1985.4,1132.1 L1987.4,1132.1 L1989.4,1132.1 L1991.4,1132.1 L1993.4,1132.1 L1995.4,1132.2 L1997.4,1132.2 L1999.4,1132.2 L2001.4,1132.2 L2003.4,1132.2 L2005.4,1132.2 L2007.4,1132.2 L2009.4,1132.2 L2011.4,1132.2 L2013.4,1132.2 L2015.4,1132.2 L2017.4,1132.2 L2019.4,1132.2 L2021.4,1132.2 L2023.4,1132.2 L2025.4,1132.2 L2027.4,1132.2 L2029.4,1132.2 L2031.4,1132.3 L2033.4,1132.3 L2035.4,1132.5 L2037.3,1132.7 L2039.2,1133.0 L2041.0,1133.5 L2042.9,1133.9 L2044.8,1134.2 L2046.7,1134.4 L2048.7,1134.5 L2050.7,1134.5 L2052.7,1134.5 L2054.7,1134.5 L2056.7,1134.5 L2058.7,1134.5 L2060.2,1134.5 L2061.7,1134.5 L2063.7,1134.5 L2065.7,1134.5 L2067.2,1134.5 L2068.7,1134.5 L2070.2,1134.5 L2072.2,1134.5 L2073.7,1134.5 L2075.2,1134.5 L2076.7,1134.5 L2078.2,1134.5 L2079.7,1134.5 L2081.2,1134.5 L2083.2,1134.5 L2084.7,1134.5 L2086.7,1134.5 L2088.7,1134.5 L2090.2,1134.5 L2091.7,1134.5 L2093.2,1134.5 L2095.2,1134.5 L2096.7,1134.5 L2098.2,1134.5 L2099.7,1134.5 L2101.2,1134.5 L2102.7,1134.5 L2104.7,1134.5 L2106.2,1134.5 L2107.7,1134.5 L2109.2,1134.5 L2110.7,1134.5 L2112.2,1134.5 L2113.7,1134.5 L2115.7,1134.5 L2117.2,1134.5 L2118.7,1134.5 L2120.2,1134.5 L2122.2,1134.5 L2123.7,1134.5 L2125.7,1134.5 L2127.2,1134.5 L2128.7,1134.5 L2130.2,1134.5 L2131.7,1134.5 L2133.2,1134.5 L2135.2,1134.5 L2137.2,1134.5 L2139.2,1134.5 L2141.2,1134.5 L2143.1,1134.5 L2145.0,1134.5 L2146.6,1134.5 L2148.2,1134.5 L2148.5,1134.5" stroke="#00be48" stroke-width="8"/>
</g>
<!-- bottom axis -->
<rect x="301" y="1164" width="1853.3" height="15" fill="#000"/>
<rect x="448.3" y="1157.8" width="9.5" height="9" fill="#000"/>
<rect x="522.0" y="1157.8" width="9.5" height="9" fill="#000"/>
<rect x="595.6" y="1157.8" width="9.5" height="9" fill="#000"/>
<rect x="668.8" y="1155.8" width="10.5" height="12" fill="#000"/>
<rect x="742.9" y="1157.8" width="9.5" height="9" fill="#000"/>
<rect x="816.5" y="1157.8" width="9.5" height="9" fill="#000"/>
<rect x="890.2" y="1157.8" width="9.5" height="9" fill="#000"/>
<rect x="963.9" y="1157.8" width="9.5" height="9" fill="#000"/>
<rect x="1037.5" y="1157.8" width="9.5" height="9" fill="#000"/>
<rect x="1111.2" y="1157.8" width="9.5" height="9" fill="#000"/>
<rect x="1184.8" y="1157.8" width="9.5" height="9" fill="#000"/>
<rect x="1258.5" y="1157.8" width="9.5" height="9" fill="#000"/>
<rect x="1332.1" y="1157.8" width="9.5" height="9" fill="#000"/>
<rect x="1405.2" y="1155.8" width="10.5" height="12" fill="#000"/>
<rect x="1479.4" y="1157.8" width="9.5" height="9" fill="#000"/>
<rect x="1553.1" y="1157.8" width="9.5" height="9" fill="#000"/>
<rect x="1626.7" y="1157.8" width="9.5" height="9" fill="#000"/>
<rect x="1700.4" y="1157.8" width="9.5" height="9" fill="#000"/>
<rect x="1774.0" y="1157.8" width="9.5" height="9" fill="#000"/>
<rect x="1847.7" y="1157.8" width="9.5" height="9" fill="#000"/>
<rect x="1921.3" y="1157.8" width="9.5" height="9" fill="#000"/>
<rect x="1995.0" y="1157.8" width="9.5" height="9" fill="#000"/>
<rect x="2068.6" y="1157.8" width="9.5" height="9" fill="#000"/>
<g fill="none" stroke-linejoin="round">
<path d="M311.5,1052.6 L311.8,1054.1 L312.1,1055.7 L312.5,1057.5 L312.8,1059.4 L313.2,1061.3 L313.5,1063.3 L313.9,1065.3 L314.2,1067.2 L314.6,1069.2 L315.0,1071.1 L315.5,1073.1 L315.9,1075.0 L316.4,1077.0 L316.9,1078.9 L317.4,1080.8 L317.9,1082.8 L318.4,1084.7 L319.0,1086.6 L319.5,1088.6 L320.1,1090.5 L320.7,1092.4 L321.3,1094.3 L321.9,1096.2 L322.5,1098.1 L323.2,1100.0 L323.9,1101.8 L324.6,1103.7 L325.3,1105.6 L326.1,1107.4 L326.8,1109.3 L327.5,1111.2 L328.2,1113.0 L328.9,1114.9 L329.6,1116.8 L330.3,1118.7 L331.0,1120.5 L331.8,1122.4 L332.6,1124.2 L333.5,1126.0 L334.5,1127.7 L335.5,1129.4 L336.6,1131.1 L337.8,1132.7 L339.0,1134.3 L340.2,1135.8 L341.6,1137.3 L342.9,1138.8 L344.3,1140.2 L345.8,1141.5 L347.3,1142.8 L348.9,1144.1 L350.5,1145.3 L352.1,1146.4 L353.8,1147.5 L355.5,1148.5 L357.3,1149.5 L359.0,1150.4 L360.8,1151.3 L362.6,1152.2 L364.4,1153.0 L366.3,1153.8 L368.1,1154.6 L370.0,1155.3 L371.9,1155.9 L373.8,1156.5 L375.7,1157.1 L377.6,1157.7 L379.5,1158.2 L381.5,1158.6 L383.4,1159.1 L385.4,1159.5 L387.3,1159.9 L389.3,1160.2 L391.3,1160.6 L393.3,1160.9 L395.2,1161.2 L397.2,1161.5 L399.2,1161.7 L401.2,1162.0 L403.2,1162.2 L405.2,1162.4 L407.1,1162.6 L409.1,1162.8 L411.1,1163.0 L413.1,1163.2 L415.1,1163.4 L417.1,1163.5 L419.1,1163.6 L421.1,1163.8 L423.1,1163.9 L425.1,1164.0 L427.1,1164.1 L429.1,1164.2 L431.1,1164.3 L433.1,1164.3 L435.1,1164.4 L437.1,1164.5 L439.1,1164.5 L441.1,1164.6 L443.1,1164.7 L445.1,1164.7 L447.1,1164.8 L449.1,1164.8 L451.1,1164.9 L453.1,1164.9 L455.1,1164.9 L457.1,1165.0 L459.1,1165.0 L461.1,1165.0 L463.1,1165.0 L465.1,1165.0 L467.1,1165.0 L469.1,1165.1 L471.1,1165.1 L473.1,1165.1 L475.1,1165.1 L477.1,1165.1 L479.1,1165.1 L481.1,1165.1 L483.1,1165.1 L485.1,1165.1 L487.1,1165.1 L489.1,1165.1 L491.1,1165.2 L493.1,1165.2 L495.1,1165.2 L497.1,1165.2 L499.1,1165.2 L501.1,1165.2 L503.1,1165.2 L505.1,1165.2 L507.1,1165.2 L509.1,1165.2 L511.1,1165.2 L513.1,1165.2 L515.1,1165.2 L517.1,1165.2 L519.1,1165.2 L521.1,1165.2 L523.1,1165.2 L525.1,1165.2 L527.1,1165.2 L529.1,1165.2 L531.1,1165.2 L533.1,1165.2 L535.1,1165.2 L537.1,1165.2 L538.6,1165.2 L540.1,1165.2 L541.6,1165.2 L543.1,1165.2 L544.6,1165.2 L546.1,1165.2 L547.6,1165.2 L549.1,1165.2 L550.6,1165.2 L552.1,1165.2 L553.6,1165.2 L555.1,1165.2 L556.6,1165.2 L558.1,1165.2 L559.6,1165.2 L561.6,1165.2 L563.1,1165.2 L564.6,1165.2 L566.1,1165.2 L567.6,1165.2 L569.6,1165.2 L571.1,1165.2 L572.6,1165.2 L574.1,1165.2 L575.6,1165.2 L577.1,1165.2 L578.6,1165.2 L580.1,1165.2 L582.1,1165.2 L583.6,1165.2 L585.1,1165.2 L586.6,1165.2 L588.1,1165.2 L589.6,1165.2 L591.1,1165.2 L592.6,1165.2 L594.1,1165.2 L595.6,1165.2 L597.6,1165.2 L599.1,1165.2 L601.1,1165.2 L602.6,1165.2 L604.1,1165.2 L605.6,1165.2 L607.1,1165.2 L608.6,1165.2 L610.1,1165.2 L611.6,1165.2 L613.1,1165.2 L615.1,1165.2 L616.6,1165.2 L618.6,1165.2 L620.6,1165.2 L622.6,1165.2 L624.1,1165.2 L626.1,1165.2 L627.6,1165.2 L629.1,1165.2 L630.6,1165.2 L632.1,1165.2 L633.6,1165.2 L635.6,1165.2 L637.1,1165.2 L638.6,1165.2 L640.1,1165.2 L641.6,1165.2 L643.6,1165.2 L645.6,1165.2 L647.1,1165.2 L648.6,1165.2 L650.1,1165.2 L651.6,1165.2 L653.1,1165.2 L654.6,1165.2 L656.1,1165.2 L657.6,1165.2 L659.1,1165.2 L660.6,1165.2 L662.1,1165.2 L663.6,1165.2 L665.6,1165.2 L667.1,1165.2 L668.6,1165.2 L670.1,1165.2 L672.1,1165.2 L674.1,1165.2 L676.1,1165.2 L677.6,1165.2 L679.1,1165.2 L680.6,1165.2 L682.1,1165.2 L683.6,1165.2 L685.1,1165.2 L686.6,1165.2 L688.6,1165.2 L690.1,1165.2 L691.6,1165.2 L693.1,1165.2 L694.6,1165.2 L696.6,1165.2 L698.6,1165.2 L700.1,1165.2 L702.1,1165.2 L703.6,1165.2 L705.6,1165.2 L707.6,1165.2 L709.1,1165.2 L711.1,1165.2 L712.6,1165.2 L714.6,1165.2 L716.1,1165.2 L717.6,1165.2 L719.6,1165.2 L721.6,1165.2 L723.1,1165.2 L724.6,1165.2 L726.1,1165.2 L727.6,1165.2 L729.6,1165.2 L731.1,1165.2 L733.1,1165.2 L734.6,1165.2 L736.1,1165.2 L737.6,1165.2 L739.1,1165.2 L740.6,1165.2 L742.1,1165.2 L743.6,1165.2 L745.6,1165.2 L747.1,1165.2 L748.6,1165.2 L750.1,1165.2 L752.1,1165.2 L753.6,1165.2 L755.6,1165.2 L757.1,1165.2 L759.1,1165.2 L760.6,1165.2 L762.6,1165.2 L764.6,1165.2 L766.1,1165.2 L768.1,1165.2 L769.6,1165.2 L771.1,1165.2 L773.1,1165.2 L774.6,1165.2 L776.6,1165.2 L778.1,1165.2 L779.6,1165.2 L781.1,1165.2 L783.1,1165.2 L784.6,1165.2 L786.6,1165.2 L788.6,1165.2 L790.6,1165.2 L792.6,1165.2 L794.5,1165.2 L796.3,1165.2 L797.9,1165.2 L799.4,1165.2" stroke="#217dd7" stroke-width="7"/>
<path d="M801,1165.2 L803,1162.3 L999,1162.3 L1002,1160.2 L1009,1160.2 L1012,1162.3 L1046,1162.3 L1050,1160.2 L1075,1160.2 L1079,1162.3 L1103,1162.3 L1107,1160.2 L1133,1160.2 L1137,1162.3 L1346.5,1162.3 L1349,1165.2 L2146,1165.2" stroke="#217dd7" stroke-width="7"/>
</g>
<!-- frame -->
<rect x="301" y="64" width="10" height="1115" fill="#000"/>
<rect x="301" y="64" width="1853.3" height="10" fill="#000"/>
<rect x="2144.3" y="64" width="10" height="1115" fill="#000"/>
<rect x="310" y="1111.5" width="8.8" height="9" fill="#000"/>
<rect x="310" y="1055.0" width="8.8" height="9" fill="#000"/>
<rect x="310" y="999.0" width="8.8" height="9" fill="#000"/>
<rect x="310" y="945.6" width="8.8" height="9" fill="#000"/>
<rect x="310" y="889.1" width="11.3" height="10" fill="#000"/>
<rect x="310" y="834.3" width="8.8" height="9" fill="#000"/>
<rect x="310" y="780.3" width="8.8" height="9" fill="#000"/>
<rect x="310" y="725.1" width="8.8" height="9" fill="#000"/>
<rect x="310" y="668.7" width="8.8" height="9" fill="#000"/>
<rect x="310" y="614.7" width="11.3" height="10" fill="#000"/>
<rect x="310" y="559.5" width="8.8" height="9" fill="#000"/>
<rect x="310" y="503.6" width="8.8" height="9" fill="#000"/>
<rect x="310" y="450.3" width="8.8" height="9" fill="#000"/>
<rect x="310" y="393.5" width="8.8" height="9" fill="#000"/>
<rect x="310" y="337.8" width="11.3" height="10" fill="#000"/>
<rect x="310" y="286.0" width="8.8" height="9" fill="#000"/>
<rect x="310" y="229.5" width="8.8" height="9" fill="#000"/>
<rect x="310" y="173.6" width="8.8" height="9" fill="#000"/>
<rect x="310" y="119.6" width="8.8" height="9" fill="#000"/>
<!-- y labels -->
<g font-size="74.5" text-anchor="end">
<text transform="translate(244.8,93.5) scale(0.995,1.01)">2.0</text>
<text transform="translate(243.8,368.1) scale(0.99,1.03)">1.5</text>
<text transform="translate(244.8,648.1) scale(0.995,1.03)">1.0</text>
<text transform="translate(243.8,918.5) scale(0.984,1.01)">0.5</text>
<text transform="translate(243.6,1199.0) scale(0.983,1.0)">0</text>
</g>
<!-- x labels -->
<g font-size="74.5" text-anchor="middle">
<text transform="translate(677.2,1260.4) scale(0.9775,1.02)">300</text>
<text transform="translate(1413.2,1259.7) scale(0.979,1.01)">400</text>
<text transform="translate(2149.15,1259.7) scale(0.964,1.01)">500</text>
</g>
<text transform="translate(1281.5,1382.2) scale(0.9865,1)" font-size="96.5" text-anchor="middle">Wavelength (nm)</text>
<text transform="translate(107.7,630) rotate(-90) scale(0.993,1)" font-size="96.5" text-anchor="middle">Abs</text>
<!-- legend -->
<g stroke-width="8" stroke-linecap="round">
<line x1="1635" y1="207" x2="1747" y2="207" stroke="#00be48"/>
<line x1="1635" y1="339.2" x2="1747" y2="339.2" stroke="#ff0000"/>
<line x1="1635" y1="471.2" x2="1747" y2="471.2" stroke="#000"/>
<line x1="1635" y1="603.4" x2="1747" y2="603.4" stroke="#217dd7"/>
</g>
<g font-size="75">
<text transform="translate(1795.8,228.7) scale(0.995,1)">2 h</text>
<text transform="translate(1796.5,363.8) scale(0.987,1)">1 h</text>
<text transform="translate(1796.5,493.0) scale(0.985,1)">10 min</text>
<text transform="translate(1796.5,624.7) scale(0.985,1)">1 min</text>
</g>
</g>
</svg>
</body></html>
